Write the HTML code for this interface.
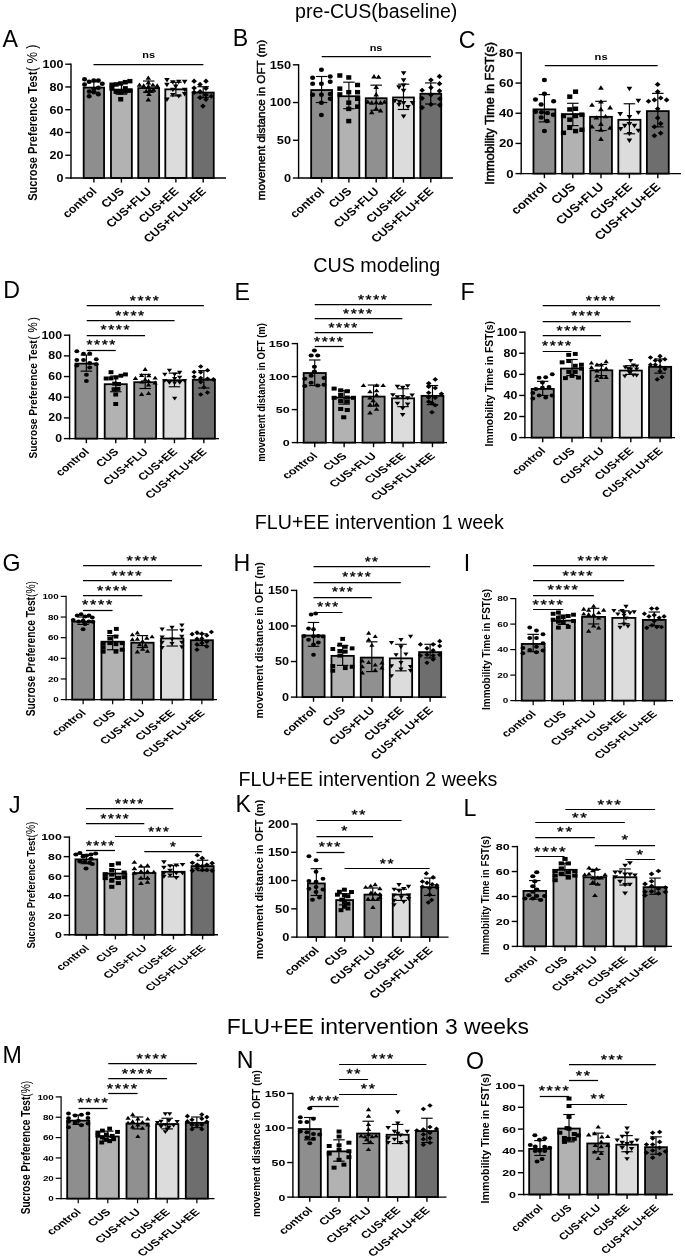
<!DOCTYPE html>
<html><head><meta charset="utf-8"><title>CUS FLU+EE behavioural tests</title>
<style>html,body{margin:0;padding:0;background:#fff}svg{display:block}</style></head>
<body><svg width="685" height="1259" viewBox="0 0 685 1259">
<rect width="685" height="1259" fill="#fff"/>
<g font-family="'Liberation Sans', Arial, Helvetica, sans-serif" fill="#000">
<text transform="translate(376.2,17.5)" font-size="19.6" text-anchor="middle" font-weight="normal">pre-CUS(baseline)</text>
<text transform="translate(376.8,272.4)" font-size="19.7" text-anchor="middle" font-weight="normal">CUS modeling</text>
<text transform="translate(379.3,528.8)" font-size="19.6" text-anchor="middle" font-weight="normal">FLU+EE intervention 1 week</text>
<text transform="translate(367.9,785.7)" font-size="19.6" text-anchor="middle" font-weight="normal">FLU+EE intervention 2 weeks</text>
<text transform="translate(377.8,1033.7)" font-size="22.9" text-anchor="middle" font-weight="normal">FLU+EE intervention 3 weeks</text>
<g>
<text transform="translate(2.5,46.5)" font-size="23.2" text-anchor="start" font-weight="normal">A</text>
<g stroke="#000" stroke-width="1.8">
<rect x="83.68" y="87.62" width="20.39" height="90.38" fill="#8e8e8e"/>
<rect x="110.97" y="89.61" width="20.88" height="88.39" fill="#b2b2b2"/>
<rect x="138.27" y="88.12" width="20.88" height="89.88" fill="#909090"/>
<rect x="165.31" y="89.36" width="21.13" height="88.64" fill="#dcdcdc"/>
<rect x="192.61" y="92.58" width="21.13" height="85.42" fill="#6e6e6e"/>
</g>
<line x1="71" y1="63.5" x2="71" y2="178.7" stroke="#000" stroke-width="1.4"/>
<line x1="70.3" y1="178" x2="226" y2="178" stroke="#000" stroke-width="1.4"/>
<line x1="65.3" y1="178" x2="71" y2="178" stroke="#000" stroke-width="1.4"/>
<text transform="translate(63.4,181.88) scale(1.13,1)" font-size="11.1" text-anchor="end" font-weight="bold">0</text>
<line x1="65.3" y1="155.24" x2="71" y2="155.24" stroke="#000" stroke-width="1.4"/>
<text transform="translate(63.4,159.12) scale(1.13,1)" font-size="11.1" text-anchor="end" font-weight="bold">20</text>
<line x1="65.3" y1="132.48" x2="71" y2="132.48" stroke="#000" stroke-width="1.4"/>
<text transform="translate(63.4,136.37) scale(1.13,1)" font-size="11.1" text-anchor="end" font-weight="bold">40</text>
<line x1="65.3" y1="109.72" x2="71" y2="109.72" stroke="#000" stroke-width="1.4"/>
<text transform="translate(63.4,113.61) scale(1.13,1)" font-size="11.1" text-anchor="end" font-weight="bold">60</text>
<line x1="65.3" y1="86.96" x2="71" y2="86.96" stroke="#000" stroke-width="1.4"/>
<text transform="translate(63.4,90.85) scale(1.13,1)" font-size="11.1" text-anchor="end" font-weight="bold">80</text>
<line x1="65.3" y1="64.2" x2="71" y2="64.2" stroke="#000" stroke-width="1.4"/>
<text transform="translate(63.4,68.09) scale(1.13,1)" font-size="11.1" text-anchor="end" font-weight="bold">100</text>
<line x1="93.87" y1="178" x2="93.87" y2="182.6" stroke="#000" stroke-width="1.4"/>
<line x1="121.41" y1="178" x2="121.41" y2="182.6" stroke="#000" stroke-width="1.4"/>
<line x1="148.71" y1="178" x2="148.71" y2="182.6" stroke="#000" stroke-width="1.4"/>
<line x1="175.88" y1="178" x2="175.88" y2="182.6" stroke="#000" stroke-width="1.4"/>
<line x1="203.18" y1="178" x2="203.18" y2="182.6" stroke="#000" stroke-width="1.4"/>
<line x1="93.87" y1="81.76" x2="93.87" y2="92.18" stroke="#000" stroke-width="1.15"/>
<line x1="88.12" y1="81.76" x2="99.62" y2="81.76" stroke="#000" stroke-width="1.15"/>
<line x1="88.12" y1="92.18" x2="99.62" y2="92.18" stroke="#000" stroke-width="1.15"/>
<line x1="121.41" y1="83.5" x2="121.41" y2="94.17" stroke="#000" stroke-width="1.15"/>
<line x1="115.66" y1="83.5" x2="127.16" y2="83.5" stroke="#000" stroke-width="1.15"/>
<line x1="115.66" y1="94.17" x2="127.16" y2="94.17" stroke="#000" stroke-width="1.15"/>
<line x1="148.71" y1="81.02" x2="148.71" y2="92.18" stroke="#000" stroke-width="1.15"/>
<line x1="142.96" y1="81.02" x2="154.46" y2="81.02" stroke="#000" stroke-width="1.15"/>
<line x1="142.96" y1="92.18" x2="154.46" y2="92.18" stroke="#000" stroke-width="1.15"/>
<line x1="175.88" y1="82.26" x2="175.88" y2="95.91" stroke="#000" stroke-width="1.15"/>
<line x1="170.13" y1="82.26" x2="181.63" y2="82.26" stroke="#000" stroke-width="1.15"/>
<line x1="170.13" y1="95.91" x2="181.63" y2="95.91" stroke="#000" stroke-width="1.15"/>
<line x1="203.18" y1="86.72" x2="203.18" y2="97.64" stroke="#000" stroke-width="1.15"/>
<line x1="197.43" y1="86.72" x2="208.93" y2="86.72" stroke="#000" stroke-width="1.15"/>
<line x1="197.43" y1="97.64" x2="208.93" y2="97.64" stroke="#000" stroke-width="1.15"/>
<g fill="#000">
<ellipse cx="84.57" cy="79.17" rx="2.54" ry="2.25"/>
<ellipse cx="89.17" cy="81.8" rx="2.54" ry="2.25"/>
<ellipse cx="93.77" cy="80.48" rx="2.54" ry="2.25"/>
<ellipse cx="98.36" cy="80.48" rx="2.54" ry="2.25"/>
<ellipse cx="84.57" cy="84.42" rx="2.54" ry="2.25"/>
<ellipse cx="102.31" cy="83.77" rx="2.54" ry="2.25"/>
<ellipse cx="98.36" cy="87.71" rx="2.54" ry="2.25"/>
<ellipse cx="89.17" cy="91.39" rx="2.54" ry="2.25"/>
<ellipse cx="93.77" cy="92.31" rx="2.54" ry="2.25"/>
<ellipse cx="98.36" cy="94.28" rx="2.54" ry="2.25"/>
<ellipse cx="89.17" cy="96.25" rx="2.54" ry="2.25"/>
<ellipse cx="93.77" cy="89.02" rx="2.54" ry="2.25"/>
<rect x="127.36" y="78.89" width="5.08" height="4.5"/>
<rect x="122.76" y="79.94" width="5.08" height="4.5"/>
<rect x="118.16" y="81.25" width="5.08" height="4.5"/>
<rect x="113.56" y="82.17" width="5.08" height="4.5"/>
<rect x="109.36" y="82.57" width="5.08" height="4.5"/>
<rect x="109.36" y="86.11" width="5.08" height="4.5"/>
<rect x="122.76" y="86.11" width="5.08" height="4.5"/>
<rect x="113.56" y="89.4" width="5.08" height="4.5"/>
<rect x="118.16" y="90.06" width="5.08" height="4.5"/>
<rect x="122.76" y="89.14" width="5.08" height="4.5"/>
<rect x="127.36" y="88.35" width="5.08" height="4.5"/>
<rect x="118.16" y="97.02" width="5.08" height="4.5"/>
<path d="M148.29 75.49L151.09 79.86L145.5 79.86Z"/>
<path d="M148.29 80.09L151.09 84.46L145.5 84.46Z"/>
<path d="M139.49 82.46L142.29 86.83L136.69 86.83Z"/>
<path d="M143.69 83.37L146.49 87.75L140.9 87.75Z"/>
<path d="M152.89 82.46L155.69 86.83L150.09 86.83Z"/>
<path d="M157.23 83.37L160.02 87.75L154.43 87.75Z"/>
<path d="M148.29 84.03L151.09 88.4L145.5 88.4Z"/>
<path d="M146.32 88.63L149.12 93L143.52 93Z"/>
<path d="M150.26 88.24L153.06 92.61L147.47 92.61Z"/>
<path d="M153.55 87.32L156.34 91.69L150.75 91.69Z"/>
<path d="M148.95 91.65L151.75 96.02L146.15 96.02Z"/>
<path d="M148.29 97.17L151.09 101.54L145.5 101.54Z"/>
<path d="M166.93 82.45L169.72 78.08L164.13 78.08Z"/>
<path d="M172.84 84.55L175.64 80.18L170.04 80.18Z"/>
<path d="M178.75 84.16L181.55 79.79L175.96 79.79Z"/>
<path d="M184.66 84.16L187.46 79.79L181.87 79.79Z"/>
<path d="M166.93 87.18L169.72 82.81L164.13 82.81Z"/>
<path d="M172.84 92.04L175.64 87.67L170.04 87.67Z"/>
<path d="M184.66 92.04L187.46 87.67L181.87 87.67Z"/>
<path d="M172.84 97.3L175.64 92.93L170.04 92.93Z"/>
<path d="M178.75 98.61L181.55 94.24L175.96 94.24Z"/>
<path d="M184.66 96.38L187.46 92.01L181.87 92.01Z"/>
<path d="M166.93 101.9L169.72 97.52L164.13 97.52Z"/>
<path d="M175.73 88.76L178.53 84.39L172.93 84.39Z"/>
<path d="M194.12 78.55L196.92 81.14L194.12 83.73L191.33 81.14Z"/>
<path d="M205.95 78.55L208.75 81.14L205.95 83.73L203.15 81.14Z"/>
<path d="M200.04 81.84L202.83 84.42L200.04 87.01L197.24 84.42Z"/>
<path d="M194.12 85.38L196.92 87.97L194.12 90.56L191.33 87.97Z"/>
<path d="M205.95 85.78L208.75 88.36L205.95 90.95L203.15 88.36Z"/>
<path d="M200.04 89.06L202.83 91.65L200.04 94.24L197.24 91.65Z"/>
<path d="M194.12 89.72L196.92 92.31L194.12 94.89L191.33 92.31Z"/>
<path d="M205.95 92.35L208.75 94.93L205.95 97.52L203.15 94.93Z"/>
<path d="M200.04 94.97L202.83 97.56L200.04 100.15L197.24 97.56Z"/>
<path d="M211.2 93.66L214 96.25L211.2 98.84L208.41 96.25Z"/>
<path d="M205.95 96.95L208.75 99.53L205.95 102.12L203.15 99.53Z"/>
<path d="M202.93 103.51L205.72 106.1L202.93 108.69L200.13 106.1Z"/>
</g>
<line x1="93.5" y1="64.5" x2="203.42" y2="64.5" stroke="#000" stroke-width="1.25"/>
<text transform="translate(148.59,58.19) scale(1.13,1)" font-size="9.7" text-anchor="middle" font-weight="bold">ns</text>
<text transform="translate(97.37,192) scale(1.13,1) rotate(-45)" font-size="11.08" text-anchor="end" font-weight="bold">control</text>
<text transform="translate(124.91,192) scale(1.13,1) rotate(-45)" font-size="11.08" text-anchor="end" font-weight="bold">CUS</text>
<text transform="translate(152.21,192) scale(1.13,1) rotate(-45)" font-size="11.08" text-anchor="end" font-weight="bold">CUS+FLU</text>
<text transform="translate(179.38,192) scale(1.13,1) rotate(-45)" font-size="11.08" text-anchor="end" font-weight="bold">CUS+EE</text>
<text transform="translate(206.68,192) scale(1.13,1) rotate(-45)" font-size="11.08" text-anchor="end" font-weight="bold">CUS+FLU+EE</text>
<text transform="translate(37.2,200.8) scale(1.15,1) rotate(-90)" font-size="11.1" text-anchor="start" font-weight="bold">Sucrose Preference Test<tspan font-weight="normal" font-size="12.5" dx="0.3">(</tspan><tspan font-weight="normal" font-size="13" dx="3.6">%</tspan><tspan font-weight="normal" font-size="12.5" dx="3.2">)</tspan></text>
</g>
<g>
<text transform="translate(232.7,46.3)" font-size="23.2" text-anchor="start" font-weight="normal">B</text>
<g stroke="#000" stroke-width="1.8">
<rect x="311.16" y="90.03" width="20.88" height="87.97" fill="#8e8e8e"/>
<rect x="338.45" y="96.23" width="20.88" height="81.77" fill="#b2b2b2"/>
<rect x="365.75" y="98.22" width="20.88" height="79.78" fill="#909090"/>
<rect x="393.04" y="97.47" width="20.88" height="80.53" fill="#dcdcdc"/>
<rect x="420.34" y="93.75" width="20.88" height="84.25" fill="#6e6e6e"/>
</g>
<line x1="298.6" y1="64.1" x2="298.6" y2="178.7" stroke="#000" stroke-width="1.4"/>
<line x1="297.9" y1="178" x2="453" y2="178" stroke="#000" stroke-width="1.4"/>
<line x1="292.9" y1="178" x2="298.6" y2="178" stroke="#000" stroke-width="1.4"/>
<text transform="translate(291,181.96) scale(1.13,1)" font-size="11.3" text-anchor="end" font-weight="bold">0</text>
<line x1="292.9" y1="140.27" x2="298.6" y2="140.27" stroke="#000" stroke-width="1.4"/>
<text transform="translate(291,144.22) scale(1.13,1)" font-size="11.3" text-anchor="end" font-weight="bold">50</text>
<line x1="292.9" y1="102.53" x2="298.6" y2="102.53" stroke="#000" stroke-width="1.4"/>
<text transform="translate(291,106.49) scale(1.13,1)" font-size="11.3" text-anchor="end" font-weight="bold">100</text>
<line x1="292.9" y1="64.8" x2="298.6" y2="64.8" stroke="#000" stroke-width="1.4"/>
<text transform="translate(291,68.75) scale(1.13,1)" font-size="11.3" text-anchor="end" font-weight="bold">150</text>
<line x1="321.6" y1="178" x2="321.6" y2="182.6" stroke="#000" stroke-width="1.4"/>
<line x1="348.9" y1="178" x2="348.9" y2="182.6" stroke="#000" stroke-width="1.4"/>
<line x1="376.19" y1="178" x2="376.19" y2="182.6" stroke="#000" stroke-width="1.4"/>
<line x1="403.49" y1="178" x2="403.49" y2="182.6" stroke="#000" stroke-width="1.4"/>
<line x1="430.78" y1="178" x2="430.78" y2="182.6" stroke="#000" stroke-width="1.4"/>
<line x1="321.6" y1="76.48" x2="321.6" y2="102.53" stroke="#000" stroke-width="1.15"/>
<line x1="315.85" y1="76.48" x2="327.35" y2="76.48" stroke="#000" stroke-width="1.15"/>
<line x1="315.85" y1="102.53" x2="327.35" y2="102.53" stroke="#000" stroke-width="1.15"/>
<line x1="348.9" y1="82.18" x2="348.9" y2="108.73" stroke="#000" stroke-width="1.15"/>
<line x1="343.15" y1="82.18" x2="354.65" y2="82.18" stroke="#000" stroke-width="1.15"/>
<line x1="343.15" y1="108.73" x2="354.65" y2="108.73" stroke="#000" stroke-width="1.15"/>
<line x1="376.19" y1="85.16" x2="376.19" y2="110.22" stroke="#000" stroke-width="1.15"/>
<line x1="370.44" y1="85.16" x2="381.94" y2="85.16" stroke="#000" stroke-width="1.15"/>
<line x1="370.44" y1="110.22" x2="381.94" y2="110.22" stroke="#000" stroke-width="1.15"/>
<line x1="403.49" y1="84.17" x2="403.49" y2="109.48" stroke="#000" stroke-width="1.15"/>
<line x1="397.74" y1="84.17" x2="409.24" y2="84.17" stroke="#000" stroke-width="1.15"/>
<line x1="397.74" y1="109.48" x2="409.24" y2="109.48" stroke="#000" stroke-width="1.15"/>
<line x1="430.78" y1="82.93" x2="430.78" y2="104.02" stroke="#000" stroke-width="1.15"/>
<line x1="425.03" y1="82.93" x2="436.53" y2="82.93" stroke="#000" stroke-width="1.15"/>
<line x1="425.03" y1="104.02" x2="436.53" y2="104.02" stroke="#000" stroke-width="1.15"/>
<g fill="#000">
<ellipse cx="321.42" cy="69.85" rx="2.54" ry="2.25"/>
<ellipse cx="312.62" cy="77.74" rx="2.54" ry="2.25"/>
<ellipse cx="330.23" cy="76.42" rx="2.54" ry="2.25"/>
<ellipse cx="312.62" cy="83.65" rx="2.54" ry="2.25"/>
<ellipse cx="321.42" cy="83.65" rx="2.54" ry="2.25"/>
<ellipse cx="330.23" cy="81.68" rx="2.54" ry="2.25"/>
<ellipse cx="312.62" cy="94.82" rx="2.54" ry="2.25"/>
<ellipse cx="321.42" cy="94.82" rx="2.54" ry="2.25"/>
<ellipse cx="330.23" cy="93.9" rx="2.54" ry="2.25"/>
<ellipse cx="330.23" cy="98.76" rx="2.54" ry="2.25"/>
<ellipse cx="321.42" cy="102.7" rx="2.54" ry="2.25"/>
<ellipse cx="321.42" cy="114.92" rx="2.54" ry="2.25"/>
<rect x="337.28" y="73.25" width="5.08" height="4.5"/>
<rect x="346.21" y="75.22" width="5.08" height="4.5"/>
<rect x="355.01" y="82.71" width="5.08" height="4.5"/>
<rect x="337.28" y="86.39" width="5.08" height="4.5"/>
<rect x="346.21" y="89.94" width="5.08" height="4.5"/>
<rect x="355.01" y="89.94" width="5.08" height="4.5"/>
<rect x="337.28" y="92.17" width="5.08" height="4.5"/>
<rect x="355.01" y="96.51" width="5.08" height="4.5"/>
<rect x="346.21" y="100.45" width="5.08" height="4.5"/>
<rect x="355.01" y="104.39" width="5.08" height="4.5"/>
<rect x="346.21" y="106.63" width="5.08" height="4.5"/>
<rect x="346.21" y="118.84" width="5.08" height="4.5"/>
<path d="M373.98 74.06L376.77 78.43L371.18 78.43Z"/>
<path d="M378.58 74.46L381.37 78.83L375.78 78.83Z"/>
<path d="M376.21 84.57L379.01 88.94L373.41 88.94Z"/>
<path d="M376.21 92.06L379.01 96.43L373.41 96.43Z"/>
<path d="M367.8 99.42L370.6 103.79L365.01 103.79Z"/>
<path d="M371.74 100.34L374.54 104.71L368.95 104.71Z"/>
<path d="M376.21 99.94L379.01 104.31L373.41 104.31Z"/>
<path d="M380.55 100.34L383.34 104.71L377.75 104.71Z"/>
<path d="M384.49 99.42L387.29 103.79L381.69 103.79Z"/>
<path d="M376.21 106.25L379.01 110.62L373.41 110.62Z"/>
<path d="M371.74 109.93L374.54 114.3L368.95 114.3Z"/>
<path d="M380.55 108.22L383.34 112.59L377.75 112.59Z"/>
<path d="M403.62 75.5L406.42 71.13L400.82 71.13Z"/>
<path d="M403.62 82.73L406.42 78.36L400.82 78.36Z"/>
<path d="M399.02 89.69L401.82 85.32L396.23 85.32Z"/>
<path d="M403.62 87.98L406.42 83.61L400.82 83.61Z"/>
<path d="M403.62 93.24L406.42 88.87L400.82 88.87Z"/>
<path d="M394.82 103.36L397.61 98.98L392.02 98.98Z"/>
<path d="M399.02 107.03L401.82 102.66L396.23 102.66Z"/>
<path d="M403.62 105.46L406.42 101.09L400.82 101.09Z"/>
<path d="M412.55 105.46L415.35 101.09L409.76 101.09Z"/>
<path d="M407.96 109.27L410.75 104.9L405.16 104.9Z"/>
<path d="M403.62 118.86L406.42 114.49L400.82 114.49Z"/>
<path d="M399.42 104.14L402.21 99.77L396.62 99.77Z"/>
<path d="M439.49 73.84L442.29 76.42L439.49 79.01L436.69 76.42Z"/>
<path d="M430.95 77.38L433.75 79.97L430.95 82.56L428.15 79.97Z"/>
<path d="M439.49 81.06L442.29 83.65L439.49 86.24L436.69 83.65Z"/>
<path d="M430.95 85L433.75 87.59L430.95 90.18L428.15 87.59Z"/>
<path d="M422.15 87.63L424.94 90.22L422.15 92.81L419.35 90.22Z"/>
<path d="M439.49 88.29L442.29 90.88L439.49 93.46L436.69 90.88Z"/>
<path d="M422.15 95.78L424.94 98.36L422.15 100.95L419.35 98.36Z"/>
<path d="M439.75 96.17L442.55 98.76L439.75 101.35L436.96 98.76Z"/>
<path d="M430.95 101.82L433.75 104.41L430.95 107L428.15 104.41Z"/>
<path d="M439.75 102.48L442.55 105.07L439.75 107.65L436.96 105.07Z"/>
<path d="M422.15 104.97L424.94 107.56L422.15 110.15L419.35 107.56Z"/>
<path d="M430.95 92.23L433.75 94.82L430.95 97.41L428.15 94.82Z"/>
</g>
<line x1="321.72" y1="56.5" x2="430.91" y2="56.5" stroke="#000" stroke-width="1.25"/>
<text transform="translate(376.07,51.17) scale(1.13,1)" font-size="9.7" text-anchor="middle" font-weight="bold">ns</text>
<text transform="translate(325.1,192) scale(1.13,1) rotate(-45)" font-size="11.08" text-anchor="end" font-weight="bold">control</text>
<text transform="translate(352.4,192) scale(1.13,1) rotate(-45)" font-size="11.08" text-anchor="end" font-weight="bold">CUS</text>
<text transform="translate(379.69,192) scale(1.13,1) rotate(-45)" font-size="11.08" text-anchor="end" font-weight="bold">CUS+FLU</text>
<text transform="translate(406.99,192) scale(1.13,1) rotate(-45)" font-size="11.08" text-anchor="end" font-weight="bold">CUS+EE</text>
<text transform="translate(434.28,192) scale(1.13,1) rotate(-45)" font-size="11.08" text-anchor="end" font-weight="bold">CUS+FLU+EE</text>
<text transform="translate(265.3,200.2) scale(0.98,1) rotate(-90)" font-size="11.66" text-anchor="start" font-weight="normal" stroke="#000" stroke-width="0.45">movement distance in OFT (m)</text>
</g>
<g>
<text transform="translate(458.8,48.1)" font-size="23.2" text-anchor="start" font-weight="normal">C</text>
<g stroke="#000" stroke-width="1.8">
<rect x="533.47" y="109.38" width="21.88" height="64.22" fill="#8e8e8e"/>
<rect x="562" y="114.1" width="21.63" height="59.5" fill="#b2b2b2"/>
<rect x="590.04" y="116.83" width="21.88" height="56.77" fill="#909090"/>
<rect x="618.33" y="119.8" width="22.13" height="53.8" fill="#dcdcdc"/>
<rect x="646.87" y="111.12" width="21.88" height="62.48" fill="#6e6e6e"/>
</g>
<line x1="521.2" y1="52.2" x2="521.2" y2="174.3" stroke="#000" stroke-width="1.4"/>
<line x1="520.5" y1="173.6" x2="681" y2="173.6" stroke="#000" stroke-width="1.4"/>
<line x1="515.5" y1="173.6" x2="521.2" y2="173.6" stroke="#000" stroke-width="1.4"/>
<text transform="translate(513.6,177.59) scale(1.15,1)" font-size="11.4" text-anchor="end" font-weight="bold">0</text>
<line x1="515.5" y1="143.43" x2="521.2" y2="143.43" stroke="#000" stroke-width="1.4"/>
<text transform="translate(513.6,147.42) scale(1.15,1)" font-size="11.4" text-anchor="end" font-weight="bold">20</text>
<line x1="515.5" y1="113.25" x2="521.2" y2="113.25" stroke="#000" stroke-width="1.4"/>
<text transform="translate(513.6,117.24) scale(1.15,1)" font-size="11.4" text-anchor="end" font-weight="bold">40</text>
<line x1="515.5" y1="83.08" x2="521.2" y2="83.08" stroke="#000" stroke-width="1.4"/>
<text transform="translate(513.6,87.06) scale(1.15,1)" font-size="11.4" text-anchor="end" font-weight="bold">60</text>
<line x1="515.5" y1="52.9" x2="521.2" y2="52.9" stroke="#000" stroke-width="1.4"/>
<text transform="translate(513.6,56.89) scale(1.15,1)" font-size="11.4" text-anchor="end" font-weight="bold">80</text>
<line x1="544.4" y1="173.6" x2="544.4" y2="178.2" stroke="#000" stroke-width="1.4"/>
<line x1="572.82" y1="173.6" x2="572.82" y2="178.2" stroke="#000" stroke-width="1.4"/>
<line x1="600.98" y1="173.6" x2="600.98" y2="178.2" stroke="#000" stroke-width="1.4"/>
<line x1="629.39" y1="173.6" x2="629.39" y2="178.2" stroke="#000" stroke-width="1.4"/>
<line x1="657.8" y1="173.6" x2="657.8" y2="178.2" stroke="#000" stroke-width="1.4"/>
<line x1="544.4" y1="94.59" x2="544.4" y2="121.89" stroke="#000" stroke-width="1.15"/>
<line x1="538.65" y1="94.59" x2="550.15" y2="94.59" stroke="#000" stroke-width="1.15"/>
<line x1="538.65" y1="121.89" x2="550.15" y2="121.89" stroke="#000" stroke-width="1.15"/>
<line x1="572.82" y1="103.28" x2="572.82" y2="125.61" stroke="#000" stroke-width="1.15"/>
<line x1="567.07" y1="103.28" x2="578.57" y2="103.28" stroke="#000" stroke-width="1.15"/>
<line x1="567.07" y1="125.61" x2="578.57" y2="125.61" stroke="#000" stroke-width="1.15"/>
<line x1="600.98" y1="101.29" x2="600.98" y2="130.57" stroke="#000" stroke-width="1.15"/>
<line x1="595.23" y1="101.29" x2="606.73" y2="101.29" stroke="#000" stroke-width="1.15"/>
<line x1="595.23" y1="130.57" x2="606.73" y2="130.57" stroke="#000" stroke-width="1.15"/>
<line x1="629.39" y1="103.77" x2="629.39" y2="133.8" stroke="#000" stroke-width="1.15"/>
<line x1="623.64" y1="103.77" x2="635.14" y2="103.77" stroke="#000" stroke-width="1.15"/>
<line x1="623.64" y1="133.8" x2="635.14" y2="133.8" stroke="#000" stroke-width="1.15"/>
<line x1="657.8" y1="93.35" x2="657.8" y2="126.85" stroke="#000" stroke-width="1.15"/>
<line x1="652.05" y1="93.35" x2="663.55" y2="93.35" stroke="#000" stroke-width="1.15"/>
<line x1="652.05" y1="126.85" x2="663.55" y2="126.85" stroke="#000" stroke-width="1.15"/>
<g fill="#000">
<ellipse cx="544.42" cy="80.12" rx="2.59" ry="2.25"/>
<ellipse cx="544.42" cy="93.65" rx="2.59" ry="2.25"/>
<ellipse cx="535.49" cy="99.56" rx="2.59" ry="2.25"/>
<ellipse cx="553.62" cy="101.27" rx="2.59" ry="2.25"/>
<ellipse cx="541.14" cy="104.42" rx="2.59" ry="2.25"/>
<ellipse cx="535.49" cy="111.78" rx="2.59" ry="2.25"/>
<ellipse cx="541.53" cy="112.31" rx="2.59" ry="2.25"/>
<ellipse cx="547.45" cy="113.09" rx="2.59" ry="2.25"/>
<ellipse cx="553.23" cy="114.67" rx="2.59" ry="2.25"/>
<ellipse cx="541.14" cy="117.56" rx="2.59" ry="2.25"/>
<ellipse cx="547.05" cy="120.98" rx="2.59" ry="2.25"/>
<ellipse cx="544.42" cy="131.09" rx="2.59" ry="2.25"/>
<rect x="572.97" y="89.43" width="5.17" height="4.5"/>
<rect x="567.19" y="94.42" width="5.17" height="4.5"/>
<rect x="567.19" y="107.17" width="5.17" height="4.5"/>
<rect x="572.97" y="106.51" width="5.17" height="4.5"/>
<rect x="560.89" y="113.74" width="5.17" height="4.5"/>
<rect x="572.97" y="113.74" width="5.17" height="4.5"/>
<rect x="579.28" y="112.42" width="5.17" height="4.5"/>
<rect x="567.19" y="117.41" width="5.17" height="4.5"/>
<rect x="567.19" y="125.56" width="5.17" height="4.5"/>
<rect x="560.89" y="130.55" width="5.17" height="4.5"/>
<rect x="572.97" y="128.84" width="5.17" height="4.5"/>
<rect x="579.28" y="127.53" width="5.17" height="4.5"/>
<path d="M600.92 85.37L603.77 89.75L598.07 89.75Z"/>
<path d="M600.92 99.17L603.77 103.54L598.07 103.54Z"/>
<path d="M591.99 102.46L594.83 106.83L589.14 106.83Z"/>
<path d="M610.12 105.08L612.96 109.45L607.27 109.45Z"/>
<path d="M600.92 106.79L603.77 111.16L598.07 111.16Z"/>
<path d="M596.32 115.2L599.17 119.57L593.47 119.57Z"/>
<path d="M605.52 113.89L608.36 118.26L602.67 118.26Z"/>
<path d="M600.92 121.51L603.77 125.88L598.07 125.88Z"/>
<path d="M591.99 124.13L594.83 128.5L589.14 128.5Z"/>
<path d="M610.12 125.45L612.96 129.82L607.27 129.82Z"/>
<path d="M600.92 127.42L603.77 131.79L598.07 131.79Z"/>
<path d="M600.92 136.62L603.77 140.99L598.07 140.99Z"/>
<path d="M629.42 91.15L632.27 86.78L626.58 86.78Z"/>
<path d="M638.36 103.24L641.2 98.87L635.51 98.87Z"/>
<path d="M620.23 116.38L623.07 112.01L617.38 112.01Z"/>
<path d="M638.36 115.06L641.2 110.69L635.51 110.69Z"/>
<path d="M629.42 119.27L632.27 114.9L626.58 114.9Z"/>
<path d="M629.42 126.49L632.27 122.12L626.58 122.12Z"/>
<path d="M620.62 131.49L623.47 127.12L617.77 127.12Z"/>
<path d="M638.36 133.06L641.2 128.69L635.51 128.69Z"/>
<path d="M629.42 136.35L632.27 131.98L626.58 131.98Z"/>
<path d="M629.42 142.92L632.27 138.55L626.58 138.55Z"/>
<path d="M624.82 128.2L627.67 123.83L621.98 123.83Z"/>
<path d="M634.42 128.2L637.26 123.83L631.57 123.83Z"/>
<path d="M657.67 81.87L660.52 84.45L657.67 87.04L654.83 84.45Z"/>
<path d="M657.67 89.09L660.52 91.68L657.67 94.27L654.83 91.68Z"/>
<path d="M648.47 98.68L651.32 101.27L648.47 103.86L645.63 101.27Z"/>
<path d="M654.39 97.37L657.23 99.96L654.39 102.54L651.54 99.96Z"/>
<path d="M660.69 95.4L663.54 97.99L660.69 100.57L657.85 97.99Z"/>
<path d="M666.61 97.37L669.45 99.96L666.61 102.54L663.76 99.96Z"/>
<path d="M657.67 106.17L660.52 108.76L657.67 111.35L654.83 108.76Z"/>
<path d="M657.67 115.37L660.52 117.96L657.67 120.54L654.83 117.96Z"/>
<path d="M660.69 121.02L663.54 123.61L660.69 126.19L657.85 123.61Z"/>
<path d="M654.39 124.17L657.23 126.76L654.39 129.35L651.54 126.76Z"/>
<path d="M660.69 130.48L663.54 133.07L660.69 135.65L657.85 133.07Z"/>
<path d="M654.39 133.11L657.23 135.69L654.39 138.28L651.54 135.69Z"/>
</g>
<line x1="544.78" y1="65.5" x2="657.68" y2="65.5" stroke="#000" stroke-width="1.25"/>
<text transform="translate(601.1,59.85) scale(1.15,1)" font-size="9.7" text-anchor="middle" font-weight="bold">ns</text>
<text transform="translate(547.9,187.6) scale(1.15,1) rotate(-45)" font-size="11.5" text-anchor="end" font-weight="bold">control</text>
<text transform="translate(576.32,187.6) scale(1.15,1) rotate(-45)" font-size="11.5" text-anchor="end" font-weight="bold">CUS</text>
<text transform="translate(604.48,187.6) scale(1.15,1) rotate(-45)" font-size="11.5" text-anchor="end" font-weight="bold">CUS+FLU</text>
<text transform="translate(632.89,187.6) scale(1.15,1) rotate(-45)" font-size="11.5" text-anchor="end" font-weight="bold">CUS+EE</text>
<text transform="translate(661.3,187.6) scale(1.15,1) rotate(-45)" font-size="11.5" text-anchor="end" font-weight="bold">CUS+FLU+EE</text>
<text transform="translate(493.6,184.8) scale(1.02,1) rotate(-90)" font-size="12.6" text-anchor="start" font-weight="normal" stroke="#000" stroke-width="0.5">Immobility Time in FST(s)</text>
</g>
<g>
<text transform="translate(3.2,297.8)" font-size="23.2" text-anchor="start" font-weight="normal">D</text>
<g stroke="#000" stroke-width="1.8">
<rect x="75.41" y="363.6" width="21.88" height="75" fill="#8e8e8e"/>
<rect x="104.69" y="384.2" width="22.13" height="54.4" fill="#b2b2b2"/>
<rect x="134.22" y="382.21" width="21.88" height="56.39" fill="#909090"/>
<rect x="163.5" y="380.23" width="21.88" height="58.37" fill="#dcdcdc"/>
<rect x="192.78" y="379.73" width="22.13" height="58.87" fill="#6e6e6e"/>
</g>
<line x1="69.6" y1="334.5" x2="69.6" y2="439.3" stroke="#000" stroke-width="1.4"/>
<line x1="68.9" y1="438.6" x2="219" y2="438.6" stroke="#000" stroke-width="1.4"/>
<line x1="63.9" y1="438.6" x2="69.6" y2="438.6" stroke="#000" stroke-width="1.4"/>
<text transform="translate(62,442.17) scale(1.21,1)" font-size="10.2" text-anchor="end" font-weight="bold">0</text>
<line x1="63.9" y1="417.92" x2="69.6" y2="417.92" stroke="#000" stroke-width="1.4"/>
<text transform="translate(62,421.49) scale(1.21,1)" font-size="10.2" text-anchor="end" font-weight="bold">20</text>
<line x1="63.9" y1="397.24" x2="69.6" y2="397.24" stroke="#000" stroke-width="1.4"/>
<text transform="translate(62,400.81) scale(1.21,1)" font-size="10.2" text-anchor="end" font-weight="bold">40</text>
<line x1="63.9" y1="376.56" x2="69.6" y2="376.56" stroke="#000" stroke-width="1.4"/>
<text transform="translate(62,380.13) scale(1.21,1)" font-size="10.2" text-anchor="end" font-weight="bold">60</text>
<line x1="63.9" y1="355.88" x2="69.6" y2="355.88" stroke="#000" stroke-width="1.4"/>
<text transform="translate(62,359.45) scale(1.21,1)" font-size="10.2" text-anchor="end" font-weight="bold">80</text>
<line x1="63.9" y1="335.2" x2="69.6" y2="335.2" stroke="#000" stroke-width="1.4"/>
<text transform="translate(62,338.77) scale(1.21,1)" font-size="10.2" text-anchor="end" font-weight="bold">100</text>
<line x1="86.35" y1="438.6" x2="86.35" y2="443.2" stroke="#000" stroke-width="1.4"/>
<line x1="115.76" y1="438.6" x2="115.76" y2="443.2" stroke="#000" stroke-width="1.4"/>
<line x1="145.16" y1="438.6" x2="145.16" y2="443.2" stroke="#000" stroke-width="1.4"/>
<line x1="174.44" y1="438.6" x2="174.44" y2="443.2" stroke="#000" stroke-width="1.4"/>
<line x1="203.85" y1="438.6" x2="203.85" y2="443.2" stroke="#000" stroke-width="1.4"/>
<line x1="86.35" y1="355.01" x2="86.35" y2="371.14" stroke="#000" stroke-width="1.15"/>
<line x1="80.6" y1="355.01" x2="92.1" y2="355.01" stroke="#000" stroke-width="1.15"/>
<line x1="80.6" y1="371.14" x2="92.1" y2="371.14" stroke="#000" stroke-width="1.15"/>
<line x1="115.76" y1="376.1" x2="115.76" y2="391.74" stroke="#000" stroke-width="1.15"/>
<line x1="110.01" y1="376.1" x2="121.51" y2="376.1" stroke="#000" stroke-width="1.15"/>
<line x1="110.01" y1="391.74" x2="121.51" y2="391.74" stroke="#000" stroke-width="1.15"/>
<line x1="145.16" y1="374.37" x2="145.16" y2="388.51" stroke="#000" stroke-width="1.15"/>
<line x1="139.41" y1="374.37" x2="150.91" y2="374.37" stroke="#000" stroke-width="1.15"/>
<line x1="139.41" y1="388.51" x2="150.91" y2="388.51" stroke="#000" stroke-width="1.15"/>
<line x1="174.44" y1="373.13" x2="174.44" y2="386.77" stroke="#000" stroke-width="1.15"/>
<line x1="168.69" y1="373.13" x2="180.19" y2="373.13" stroke="#000" stroke-width="1.15"/>
<line x1="168.69" y1="386.77" x2="180.19" y2="386.77" stroke="#000" stroke-width="1.15"/>
<line x1="203.85" y1="370.65" x2="203.85" y2="388.01" stroke="#000" stroke-width="1.15"/>
<line x1="198.1" y1="370.65" x2="209.6" y2="370.65" stroke="#000" stroke-width="1.15"/>
<line x1="198.1" y1="388.01" x2="209.6" y2="388.01" stroke="#000" stroke-width="1.15"/>
<g fill="#000">
<ellipse cx="76.83" cy="351.17" rx="2.42" ry="2"/>
<ellipse cx="83.53" cy="353.8" rx="2.42" ry="2"/>
<ellipse cx="89.71" cy="353.53" rx="2.42" ry="2"/>
<ellipse cx="76.83" cy="359.97" rx="2.42" ry="2"/>
<ellipse cx="83.53" cy="359.97" rx="2.42" ry="2"/>
<ellipse cx="96.28" cy="359.31" rx="2.42" ry="2"/>
<ellipse cx="89.71" cy="362.99" rx="2.42" ry="2"/>
<ellipse cx="76.83" cy="365.62" rx="2.42" ry="2"/>
<ellipse cx="96.28" cy="364.31" rx="2.42" ry="2"/>
<ellipse cx="89.71" cy="367.59" rx="2.42" ry="2"/>
<ellipse cx="86.42" cy="374.82" rx="2.42" ry="2"/>
<ellipse cx="86.42" cy="380.99" rx="2.42" ry="2"/>
<rect x="108.57" y="370.19" width="4.84" height="4"/>
<rect x="123.03" y="372.42" width="4.84" height="4"/>
<rect x="118.43" y="373.74" width="4.84" height="4"/>
<rect x="113.57" y="375.45" width="4.84" height="4"/>
<rect x="108.57" y="376.36" width="4.84" height="4"/>
<rect x="103.71" y="376.5" width="4.84" height="4"/>
<rect x="112.25" y="381.62" width="4.84" height="4"/>
<rect x="116.19" y="382.01" width="4.84" height="4"/>
<rect x="111.59" y="387.27" width="4.84" height="4"/>
<rect x="115.54" y="386.88" width="4.84" height="4"/>
<rect x="113.3" y="392.53" width="4.84" height="4"/>
<rect x="113.3" y="401.99" width="4.84" height="4"/>
<path d="M145.15 367.07L147.82 370.95L142.49 370.95Z"/>
<path d="M141.61 373.11L144.27 377L138.94 377Z"/>
<path d="M148.83 373.37L151.49 377.26L146.17 377.26Z"/>
<path d="M135.43 376L138.09 379.89L132.77 379.89Z"/>
<path d="M155.14 375.74L157.8 379.62L152.48 379.62Z"/>
<path d="M145.15 377.32L147.82 381.2L142.49 381.2Z"/>
<path d="M148.57 378.63L151.23 382.51L145.91 382.51Z"/>
<path d="M142 379.68L144.66 383.57L139.34 383.57Z"/>
<path d="M155.14 380.6L157.8 384.49L152.48 384.49Z"/>
<path d="M148.57 382.57L151.23 386.46L145.91 386.46Z"/>
<path d="M141.61 392.03L144.27 395.92L138.94 395.92Z"/>
<path d="M148.57 391.11L151.23 395L145.91 395Z"/>
<path d="M169.42 372.58L172.08 368.7L166.75 368.7Z"/>
<path d="M164.82 376.52L167.48 372.64L162.16 372.64Z"/>
<path d="M174.67 376.52L177.33 372.64L172.01 372.64Z"/>
<path d="M179.66 374.68L182.33 370.8L177 370.8Z"/>
<path d="M179.66 379.55L182.33 375.66L177 375.66Z"/>
<path d="M174.67 380.86L177.33 376.97L172.01 376.97Z"/>
<path d="M169.42 384.8L172.08 380.92L166.75 380.92Z"/>
<path d="M174.67 385.19L177.33 381.31L172.01 381.31Z"/>
<path d="M179.66 384.8L182.33 380.92L177 380.92Z"/>
<path d="M164.82 382.83L167.48 378.94L162.16 378.94Z"/>
<path d="M184.53 382.83L187.19 378.94L181.86 378.94Z"/>
<path d="M174.67 400.57L177.33 396.68L172.01 396.68Z"/>
<path d="M200.69 364.24L203.35 366.54L200.69 368.84L198.02 366.54Z"/>
<path d="M207.52 367.92L210.18 370.22L207.52 372.52L204.86 370.22Z"/>
<path d="M194.12 369.63L196.78 371.93L194.12 374.23L191.45 371.93Z"/>
<path d="M200.69 369.89L203.35 372.19L200.69 374.49L198.02 372.19Z"/>
<path d="M194.12 374.49L196.78 376.79L194.12 379.09L191.45 376.79Z"/>
<path d="M200.69 375.8L203.35 378.1L200.69 380.4L198.02 378.1Z"/>
<path d="M207.52 376.46L210.18 378.76L207.52 381.06L204.86 378.76Z"/>
<path d="M200.69 379.74L203.35 382.04L200.69 384.34L198.02 382.04Z"/>
<path d="M213.43 377.12L216.09 379.42L213.43 381.72L210.77 379.42Z"/>
<path d="M203.97 385L206.63 387.3L203.97 389.6L201.31 387.3Z"/>
<path d="M207.52 390.25L210.18 392.55L207.52 394.85L204.86 392.55Z"/>
<path d="M200.69 392.23L203.35 394.53L200.69 396.83L198.02 394.53Z"/>
</g>
<line x1="86.72" y1="350.5" x2="115.76" y2="350.5" stroke="#000" stroke-width="1.25"/>
<text transform="translate(101.69,349.37) scale(1.21,1)" font-size="12.8" text-anchor="middle" font-weight="normal" letter-spacing="1.35" stroke="#000" stroke-width="0.35">****</text>
<line x1="86.72" y1="335.5" x2="145.04" y2="335.5" stroke="#000" stroke-width="1.25"/>
<text transform="translate(115.83,334.48) scale(1.21,1)" font-size="12.8" text-anchor="middle" font-weight="normal" letter-spacing="1.35" stroke="#000" stroke-width="0.35">****</text>
<line x1="86.72" y1="320.5" x2="174.57" y2="320.5" stroke="#000" stroke-width="1.25"/>
<text transform="translate(130.47,319.59) scale(1.21,1)" font-size="12.8" text-anchor="middle" font-weight="normal" letter-spacing="1.35" stroke="#000" stroke-width="0.35">****</text>
<line x1="86.72" y1="305.5" x2="203.85" y2="305.5" stroke="#000" stroke-width="1.25"/>
<text transform="translate(145.11,304.7) scale(1.21,1)" font-size="12.8" text-anchor="middle" font-weight="normal" letter-spacing="1.35" stroke="#000" stroke-width="0.35">****</text>
<text transform="translate(89.85,452.6) scale(1.22,1) rotate(-45)" font-size="10.08" text-anchor="end" font-weight="bold">control</text>
<text transform="translate(119.26,452.6) scale(1.22,1) rotate(-45)" font-size="10.08" text-anchor="end" font-weight="bold">CUS</text>
<text transform="translate(148.66,452.6) scale(1.22,1) rotate(-45)" font-size="10.08" text-anchor="end" font-weight="bold">CUS+FLU</text>
<text transform="translate(177.94,452.6) scale(1.22,1) rotate(-45)" font-size="10.08" text-anchor="end" font-weight="bold">CUS+EE</text>
<text transform="translate(207.35,452.6) scale(1.22,1) rotate(-45)" font-size="10.08" text-anchor="end" font-weight="bold">CUS+FLU+EE</text>
<text transform="translate(36.9,458.6) scale(1.12,1) rotate(-90)" font-size="10.17" text-anchor="start" font-weight="bold">Sucrose Preference Test<tspan font-weight="normal" font-size="11" dx="0.6" stroke="#000" stroke-width="0.1">(</tspan><tspan font-weight="normal" font-size="11.5" dx="3.6" stroke="#000" stroke-width="0.1">%</tspan><tspan font-weight="normal" font-size="11" dx="1.4" stroke="#000" stroke-width="0.1">)</tspan></text>
</g>
<g>
<text transform="translate(234.6,299.8)" font-size="23.2" text-anchor="start" font-weight="normal">E</text>
<g stroke="#000" stroke-width="1.8">
<rect x="303.68" y="373.03" width="22.13" height="69.57" fill="#8e8e8e"/>
<rect x="333.21" y="397.6" width="21.88" height="45" fill="#b2b2b2"/>
<rect x="362.49" y="396.6" width="22.13" height="46" fill="#909090"/>
<rect x="392.01" y="398.34" width="22.13" height="44.26" fill="#dcdcdc"/>
<rect x="421.54" y="395.86" width="21.88" height="46.74" fill="#6e6e6e"/>
</g>
<line x1="297.4" y1="342.9" x2="297.4" y2="443.3" stroke="#000" stroke-width="1.4"/>
<line x1="296.7" y1="442.6" x2="447" y2="442.6" stroke="#000" stroke-width="1.4"/>
<line x1="291.7" y1="442.6" x2="297.4" y2="442.6" stroke="#000" stroke-width="1.4"/>
<text transform="translate(289.8,446.03) scale(1.28,1)" font-size="9.8" text-anchor="end" font-weight="bold">0</text>
<line x1="291.7" y1="409.6" x2="297.4" y2="409.6" stroke="#000" stroke-width="1.4"/>
<text transform="translate(289.8,413.03) scale(1.28,1)" font-size="9.8" text-anchor="end" font-weight="bold">50</text>
<line x1="291.7" y1="376.6" x2="297.4" y2="376.6" stroke="#000" stroke-width="1.4"/>
<text transform="translate(289.8,380.03) scale(1.28,1)" font-size="9.8" text-anchor="end" font-weight="bold">100</text>
<line x1="291.7" y1="343.6" x2="297.4" y2="343.6" stroke="#000" stroke-width="1.4"/>
<text transform="translate(289.8,347.03) scale(1.28,1)" font-size="9.8" text-anchor="end" font-weight="bold">150</text>
<line x1="314.74" y1="442.6" x2="314.74" y2="447.2" stroke="#000" stroke-width="1.4"/>
<line x1="344.14" y1="442.6" x2="344.14" y2="447.2" stroke="#000" stroke-width="1.4"/>
<line x1="373.55" y1="442.6" x2="373.55" y2="447.2" stroke="#000" stroke-width="1.4"/>
<line x1="403.08" y1="442.6" x2="403.08" y2="447.2" stroke="#000" stroke-width="1.4"/>
<line x1="432.48" y1="442.6" x2="432.48" y2="447.2" stroke="#000" stroke-width="1.4"/>
<line x1="314.74" y1="359.98" x2="314.74" y2="385.53" stroke="#000" stroke-width="1.15"/>
<line x1="308.99" y1="359.98" x2="320.49" y2="359.98" stroke="#000" stroke-width="1.15"/>
<line x1="308.99" y1="385.53" x2="320.49" y2="385.53" stroke="#000" stroke-width="1.15"/>
<line x1="344.14" y1="390.5" x2="344.14" y2="404.14" stroke="#000" stroke-width="1.15"/>
<line x1="338.39" y1="390.5" x2="349.89" y2="390.5" stroke="#000" stroke-width="1.15"/>
<line x1="338.39" y1="404.14" x2="349.89" y2="404.14" stroke="#000" stroke-width="1.15"/>
<line x1="373.55" y1="385.04" x2="373.55" y2="406.13" stroke="#000" stroke-width="1.15"/>
<line x1="367.8" y1="385.04" x2="379.3" y2="385.04" stroke="#000" stroke-width="1.15"/>
<line x1="367.8" y1="406.13" x2="379.3" y2="406.13" stroke="#000" stroke-width="1.15"/>
<line x1="403.08" y1="388.76" x2="403.08" y2="406.63" stroke="#000" stroke-width="1.15"/>
<line x1="397.33" y1="388.76" x2="408.83" y2="388.76" stroke="#000" stroke-width="1.15"/>
<line x1="397.33" y1="406.63" x2="408.83" y2="406.63" stroke="#000" stroke-width="1.15"/>
<line x1="432.48" y1="385.53" x2="432.48" y2="404.64" stroke="#000" stroke-width="1.15"/>
<line x1="426.73" y1="385.53" x2="438.23" y2="385.53" stroke="#000" stroke-width="1.15"/>
<line x1="426.73" y1="404.64" x2="438.23" y2="404.64" stroke="#000" stroke-width="1.15"/>
<g fill="#000">
<ellipse cx="314.42" cy="350.51" rx="2.56" ry="2"/>
<ellipse cx="311.14" cy="355.5" rx="2.56" ry="2"/>
<ellipse cx="317.71" cy="355.5" rx="2.56" ry="2"/>
<ellipse cx="314.42" cy="366.67" rx="2.56" ry="2"/>
<ellipse cx="314.42" cy="371.53" rx="2.56" ry="2"/>
<ellipse cx="311.14" cy="375.74" rx="2.56" ry="2"/>
<ellipse cx="304.83" cy="378.76" rx="2.56" ry="2"/>
<ellipse cx="324.01" cy="378.1" rx="2.56" ry="2"/>
<ellipse cx="311.14" cy="382.7" rx="2.56" ry="2"/>
<ellipse cx="304.83" cy="385.99" rx="2.56" ry="2"/>
<ellipse cx="317.71" cy="385.59" rx="2.56" ry="2"/>
<ellipse cx="324.01" cy="384.67" rx="2.56" ry="2"/>
<rect x="331.57" y="386.61" width="5.12" height="4"/>
<rect x="338.14" y="388.32" width="5.12" height="4"/>
<rect x="344.71" y="389.24" width="5.12" height="4"/>
<rect x="338.14" y="392.92" width="5.12" height="4"/>
<rect x="331.57" y="395.81" width="5.12" height="4"/>
<rect x="344.71" y="395.55" width="5.12" height="4"/>
<rect x="350.89" y="395.81" width="5.12" height="4"/>
<rect x="338.14" y="399.09" width="5.12" height="4"/>
<rect x="344.71" y="399.75" width="5.12" height="4"/>
<rect x="338.14" y="406.98" width="5.12" height="4"/>
<rect x="344.71" y="408.03" width="5.12" height="4"/>
<rect x="341.16" y="415.26" width="5.12" height="4"/>
<path d="M363.43 383.23L366.25 387.11L360.61 387.11Z"/>
<path d="M376.57 383.23L379.39 387.11L373.75 387.11Z"/>
<path d="M383.14 383.23L385.95 387.11L380.32 387.11Z"/>
<path d="M370 389.4L372.82 393.29L367.18 393.29Z"/>
<path d="M376.57 388.48L379.39 392.37L373.75 392.37Z"/>
<path d="M376.57 392.82L379.39 396.7L373.75 396.7Z"/>
<path d="M370 395.71L372.82 399.6L367.18 399.6Z"/>
<path d="M370 402.54L372.82 406.43L367.18 406.43Z"/>
<path d="M376.57 402.02L379.39 405.9L373.75 405.9Z"/>
<path d="M376.57 406.88L379.39 410.76L373.75 410.76Z"/>
<path d="M370 410.56L372.82 414.44L367.18 414.44Z"/>
<path d="M373.15 398.34L375.97 402.22L370.34 402.22Z"/>
<path d="M397.42 388.74L400.23 384.86L394.6 384.86Z"/>
<path d="M402.67 389.66L405.49 385.78L399.86 385.78Z"/>
<path d="M407.66 388.09L410.48 384.2L404.85 384.2Z"/>
<path d="M392.82 397.02L395.63 393.13L390 393.13Z"/>
<path d="M412.13 397.28L414.95 393.4L409.32 393.4Z"/>
<path d="M397.42 399.25L400.23 395.37L394.6 395.37Z"/>
<path d="M402.67 398.86L405.49 394.97L399.86 394.97Z"/>
<path d="M407.66 400.17L410.48 396.29L404.85 396.29Z"/>
<path d="M397.42 405.56L400.23 401.67L394.6 401.67Z"/>
<path d="M407.66 406.48L410.48 402.59L404.85 402.59Z"/>
<path d="M402.67 410.42L405.49 406.54L399.86 406.54Z"/>
<path d="M402.67 416.99L405.49 413.11L399.86 413.11Z"/>
<path d="M435.26 377.12L438.07 379.42L435.26 381.72L432.44 379.42Z"/>
<path d="M428.69 381.06L431.5 383.36L428.69 385.66L425.87 383.36Z"/>
<path d="M428.69 384.34L431.5 386.64L428.69 388.94L425.87 386.64Z"/>
<path d="M435.26 385.66L438.07 387.96L435.26 390.26L432.44 387.96Z"/>
<path d="M428.69 390.52L431.5 392.82L428.69 395.12L425.87 392.82Z"/>
<path d="M441.43 391.57L444.25 393.87L441.43 396.17L438.61 393.87Z"/>
<path d="M428.69 395.25L431.5 397.55L428.69 399.85L425.87 397.55Z"/>
<path d="M435.26 395.51L438.07 397.81L435.26 400.11L432.44 397.81Z"/>
<path d="M428.69 399.45L431.5 401.75L428.69 404.05L425.87 401.75Z"/>
<path d="M435.26 403L438.07 405.3L435.26 407.6L432.44 405.3Z"/>
<path d="M431.97 409.96L434.79 412.26L431.97 414.56L429.15 412.26Z"/>
<path d="M431.97 400.77L434.79 403.07L431.97 405.37L429.15 403.07Z"/>
</g>
<line x1="314.74" y1="346.5" x2="343.77" y2="346.5" stroke="#000" stroke-width="1.25"/>
<text transform="translate(329.25,346.39) scale(1.2,1)" font-size="12.8" text-anchor="middle" font-weight="normal" letter-spacing="1.35" stroke="#000" stroke-width="0.35">****</text>
<line x1="314.74" y1="332.5" x2="373.05" y2="332.5" stroke="#000" stroke-width="1.25"/>
<text transform="translate(343.64,332.24) scale(1.2,1)" font-size="12.8" text-anchor="middle" font-weight="normal" letter-spacing="1.35" stroke="#000" stroke-width="0.35">****</text>
<line x1="314.74" y1="318.5" x2="402.33" y2="318.5" stroke="#000" stroke-width="1.25"/>
<text transform="translate(358.28,318.1) scale(1.2,1)" font-size="12.8" text-anchor="middle" font-weight="normal" letter-spacing="1.35" stroke="#000" stroke-width="0.35">****</text>
<line x1="314.74" y1="304.5" x2="431.86" y2="304.5" stroke="#000" stroke-width="1.25"/>
<text transform="translate(373.17,303.96) scale(1.2,1)" font-size="12.8" text-anchor="middle" font-weight="normal" letter-spacing="1.35" stroke="#000" stroke-width="0.35">****</text>
<text transform="translate(318.24,456.6) scale(1.35,1) rotate(-45)" font-size="9.6" text-anchor="end" font-weight="bold">control</text>
<text transform="translate(347.64,456.6) scale(1.35,1) rotate(-45)" font-size="9.6" text-anchor="end" font-weight="bold">CUS</text>
<text transform="translate(377.05,456.6) scale(1.35,1) rotate(-45)" font-size="9.6" text-anchor="end" font-weight="bold">CUS+FLU</text>
<text transform="translate(406.58,456.6) scale(1.35,1) rotate(-45)" font-size="9.6" text-anchor="end" font-weight="bold">CUS+EE</text>
<text transform="translate(435.98,456.6) scale(1.35,1) rotate(-45)" font-size="9.6" text-anchor="end" font-weight="bold">CUS+FLU+EE</text>
<text transform="translate(264.9,461.8) scale(1.2,1) rotate(-90)" font-size="9.5" text-anchor="start" font-weight="bold">movement distance in OFT (m)</text>
</g>
<g>
<text transform="translate(460.4,299.8)" font-size="23.2" text-anchor="start" font-weight="normal">F</text>
<g stroke="#000" stroke-width="1.8">
<rect x="531.65" y="388.91" width="22.13" height="48.69" fill="#8e8e8e"/>
<rect x="560.93" y="368.56" width="22.13" height="69.04" fill="#b2b2b2"/>
<rect x="590.46" y="370.3" width="21.88" height="67.3" fill="#909090"/>
<rect x="619.74" y="370.55" width="22.13" height="67.05" fill="#dcdcdc"/>
<rect x="649.02" y="366.83" width="22.13" height="70.77" fill="#6e6e6e"/>
</g>
<line x1="524.9" y1="331.5" x2="524.9" y2="438.3" stroke="#000" stroke-width="1.4"/>
<line x1="524.2" y1="437.6" x2="675" y2="437.6" stroke="#000" stroke-width="1.4"/>
<line x1="519.2" y1="437.6" x2="524.9" y2="437.6" stroke="#000" stroke-width="1.4"/>
<text transform="translate(517.3,441.19) scale(1.21,1)" font-size="10.25" text-anchor="end" font-weight="bold">0</text>
<line x1="519.2" y1="416.52" x2="524.9" y2="416.52" stroke="#000" stroke-width="1.4"/>
<text transform="translate(517.3,420.11) scale(1.21,1)" font-size="10.25" text-anchor="end" font-weight="bold">20</text>
<line x1="519.2" y1="395.44" x2="524.9" y2="395.44" stroke="#000" stroke-width="1.4"/>
<text transform="translate(517.3,399.03) scale(1.21,1)" font-size="10.25" text-anchor="end" font-weight="bold">40</text>
<line x1="519.2" y1="374.36" x2="524.9" y2="374.36" stroke="#000" stroke-width="1.4"/>
<text transform="translate(517.3,377.95) scale(1.21,1)" font-size="10.25" text-anchor="end" font-weight="bold">60</text>
<line x1="519.2" y1="353.28" x2="524.9" y2="353.28" stroke="#000" stroke-width="1.4"/>
<text transform="translate(517.3,356.87) scale(1.21,1)" font-size="10.25" text-anchor="end" font-weight="bold">80</text>
<line x1="519.2" y1="332.2" x2="524.9" y2="332.2" stroke="#000" stroke-width="1.4"/>
<text transform="translate(517.3,335.79) scale(1.21,1)" font-size="10.25" text-anchor="end" font-weight="bold">100</text>
<line x1="542.72" y1="437.6" x2="542.72" y2="442.2" stroke="#000" stroke-width="1.4"/>
<line x1="572" y1="437.6" x2="572" y2="442.2" stroke="#000" stroke-width="1.4"/>
<line x1="601.4" y1="437.6" x2="601.4" y2="442.2" stroke="#000" stroke-width="1.4"/>
<line x1="630.81" y1="437.6" x2="630.81" y2="442.2" stroke="#000" stroke-width="1.4"/>
<line x1="660.09" y1="437.6" x2="660.09" y2="442.2" stroke="#000" stroke-width="1.4"/>
<line x1="542.72" y1="381.32" x2="542.72" y2="395.46" stroke="#000" stroke-width="1.15"/>
<line x1="536.97" y1="381.32" x2="548.47" y2="381.32" stroke="#000" stroke-width="1.15"/>
<line x1="536.97" y1="395.46" x2="548.47" y2="395.46" stroke="#000" stroke-width="1.15"/>
<line x1="572" y1="359.48" x2="572" y2="375.61" stroke="#000" stroke-width="1.15"/>
<line x1="566.25" y1="359.48" x2="577.75" y2="359.48" stroke="#000" stroke-width="1.15"/>
<line x1="566.25" y1="375.61" x2="577.75" y2="375.61" stroke="#000" stroke-width="1.15"/>
<line x1="601.4" y1="364.44" x2="601.4" y2="375.61" stroke="#000" stroke-width="1.15"/>
<line x1="595.65" y1="364.44" x2="607.15" y2="364.44" stroke="#000" stroke-width="1.15"/>
<line x1="595.65" y1="375.61" x2="607.15" y2="375.61" stroke="#000" stroke-width="1.15"/>
<line x1="630.81" y1="365.68" x2="630.81" y2="374.37" stroke="#000" stroke-width="1.15"/>
<line x1="625.06" y1="365.68" x2="636.56" y2="365.68" stroke="#000" stroke-width="1.15"/>
<line x1="625.06" y1="374.37" x2="636.56" y2="374.37" stroke="#000" stroke-width="1.15"/>
<line x1="660.09" y1="358.98" x2="660.09" y2="373.13" stroke="#000" stroke-width="1.15"/>
<line x1="654.34" y1="358.98" x2="665.84" y2="358.98" stroke="#000" stroke-width="1.15"/>
<line x1="654.34" y1="373.13" x2="665.84" y2="373.13" stroke="#000" stroke-width="1.15"/>
<g fill="#000">
<ellipse cx="552.28" cy="374.17" rx="2.42" ry="2"/>
<ellipse cx="545.71" cy="377.19" rx="2.42" ry="2"/>
<ellipse cx="539.14" cy="377.85" rx="2.42" ry="2"/>
<ellipse cx="542.42" cy="382.45" rx="2.42" ry="2"/>
<ellipse cx="542.42" cy="387.7" rx="2.42" ry="2"/>
<ellipse cx="548.99" cy="387.04" rx="2.42" ry="2"/>
<ellipse cx="535.85" cy="389.01" rx="2.42" ry="2"/>
<ellipse cx="532.83" cy="392.96" rx="2.42" ry="2"/>
<ellipse cx="539.14" cy="395.58" rx="2.42" ry="2"/>
<ellipse cx="552.01" cy="395.58" rx="2.42" ry="2"/>
<ellipse cx="545.71" cy="397.55" rx="2.42" ry="2"/>
<ellipse cx="532.83" cy="398.61" rx="2.42" ry="2"/>
<rect x="572.85" y="351.93" width="4.84" height="4"/>
<rect x="566.28" y="352.85" width="4.84" height="4"/>
<rect x="566.28" y="359.03" width="4.84" height="4"/>
<rect x="559.71" y="360.34" width="4.84" height="4"/>
<rect x="572.85" y="363.76" width="4.84" height="4"/>
<rect x="579.03" y="362.71" width="4.84" height="4"/>
<rect x="579.03" y="366.65" width="4.84" height="4"/>
<rect x="566.28" y="369.93" width="4.84" height="4"/>
<rect x="572.85" y="369.93" width="4.84" height="4"/>
<rect x="569.57" y="373.88" width="4.84" height="4"/>
<rect x="563" y="376.11" width="4.84" height="4"/>
<rect x="576.13" y="375.58" width="4.84" height="4"/>
<path d="M606.15 359.32L608.81 363.21L603.48 363.21Z"/>
<path d="M591.43 360.64L594.09 364.52L588.77 364.52Z"/>
<path d="M596.95 362.61L599.61 366.49L594.29 366.49Z"/>
<path d="M601.28 362.61L603.95 366.49L598.62 366.49Z"/>
<path d="M591.43 365.24L594.09 369.12L588.77 369.12Z"/>
<path d="M606.15 366.29L608.81 370.17L603.48 370.17Z"/>
<path d="M601.28 367.21L603.95 371.09L598.62 371.09Z"/>
<path d="M596.95 368.52L599.61 372.41L594.29 372.41Z"/>
<path d="M596.95 373.78L599.61 377.66L594.29 377.66Z"/>
<path d="M601.28 375.09L603.95 378.97L598.62 378.97Z"/>
<path d="M606.15 375.09L608.81 378.97L603.48 378.97Z"/>
<path d="M596.95 378.11L599.61 382L594.29 382Z"/>
<path d="M630.73 362.87L633.39 358.98L628.07 358.98Z"/>
<path d="M633.36 367.46L636.02 363.58L630.7 363.58Z"/>
<path d="M636.64 368.38L639.3 364.5L633.98 364.5Z"/>
<path d="M625.21 369.44L627.87 365.55L622.55 365.55Z"/>
<path d="M628.1 370.75L630.76 366.86L625.44 366.86Z"/>
<path d="M630.73 371.41L633.39 367.52L628.07 367.52Z"/>
<path d="M636.64 371.41L639.3 367.52L633.98 367.52Z"/>
<path d="M629.42 374.69L632.08 370.81L626.75 370.81Z"/>
<path d="M633.36 377.32L636.02 373.43L630.7 373.43Z"/>
<path d="M624.82 378.37L627.48 374.49L622.16 374.49Z"/>
<path d="M636.64 377.58L639.3 373.7L633.98 373.7Z"/>
<path d="M630.73 374.03L633.39 370.15L628.07 370.15Z"/>
<path d="M660.03 353.87L662.69 356.17L660.03 358.47L657.37 356.17Z"/>
<path d="M650.44 355.18L653.1 357.48L650.44 359.78L647.78 357.48Z"/>
<path d="M664.89 356.89L667.55 359.19L664.89 361.49L662.23 359.19Z"/>
<path d="M655.3 358.2L657.96 360.5L655.3 362.8L652.64 360.5Z"/>
<path d="M660.03 358.47L662.69 360.77L660.03 363.07L657.37 360.77Z"/>
<path d="M650.44 362.41L653.1 364.71L650.44 367.01L647.78 364.71Z"/>
<path d="M655.3 362.41L657.96 364.71L655.3 367.01L652.64 364.71Z"/>
<path d="M664.89 366.61L667.55 368.91L664.89 371.21L662.23 368.91Z"/>
<path d="M660.03 368.98L662.69 371.28L660.03 373.58L657.37 371.28Z"/>
<path d="M662 374.63L664.66 376.93L662 379.23L659.34 376.93Z"/>
<path d="M657.27 377.12L659.93 379.42L657.27 381.72L654.61 379.42Z"/>
<path d="M660.03 364.38L662.69 366.68L660.03 368.98L657.37 366.68Z"/>
</g>
<line x1="542.72" y1="351.5" x2="571.5" y2="351.5" stroke="#000" stroke-width="1"/>
<text transform="translate(557.43,349.86) scale(1.21,1)" font-size="12.8" text-anchor="middle" font-weight="normal" letter-spacing="1.35" stroke="#000" stroke-width="0.35">****</text>
<line x1="542.72" y1="335.5" x2="601.03" y2="335.5" stroke="#000" stroke-width="1.25"/>
<text transform="translate(571.82,334.97) scale(1.21,1)" font-size="12.8" text-anchor="middle" font-weight="normal" letter-spacing="1.35" stroke="#000" stroke-width="0.35">****</text>
<line x1="542.72" y1="321.5" x2="630.81" y2="321.5" stroke="#000" stroke-width="1.25"/>
<text transform="translate(586.46,320.09) scale(1.21,1)" font-size="12.8" text-anchor="middle" font-weight="normal" letter-spacing="1.35" stroke="#000" stroke-width="0.35">****</text>
<line x1="542.72" y1="305.5" x2="660.09" y2="305.5" stroke="#000" stroke-width="1.25"/>
<text transform="translate(601.1,304.95) scale(1.21,1)" font-size="12.8" text-anchor="middle" font-weight="normal" letter-spacing="1.35" stroke="#000" stroke-width="0.35">****</text>
<text transform="translate(546.22,451.6) scale(1.21,1) rotate(-45)" font-size="10.13" text-anchor="end" font-weight="bold">control</text>
<text transform="translate(575.5,451.6) scale(1.21,1) rotate(-45)" font-size="10.13" text-anchor="end" font-weight="bold">CUS</text>
<text transform="translate(604.9,451.6) scale(1.21,1) rotate(-45)" font-size="10.13" text-anchor="end" font-weight="bold">CUS+FLU</text>
<text transform="translate(634.31,451.6) scale(1.21,1) rotate(-45)" font-size="10.13" text-anchor="end" font-weight="bold">CUS+EE</text>
<text transform="translate(663.59,451.6) scale(1.21,1) rotate(-45)" font-size="10.13" text-anchor="end" font-weight="bold">CUS+FLU+EE</text>
<text transform="translate(493.4,446.4) scale(1.13,1) rotate(-90)" font-size="10.33" text-anchor="start" font-weight="bold">Immobility Time in FST(s)</text>
</g>
<g>
<text transform="translate(2.6,570.9)" font-size="23.2" text-anchor="start" font-weight="normal">G</text>
<g stroke="#000" stroke-width="1.8">
<rect x="72.19" y="621.62" width="21.88" height="77.98" fill="#8e8e8e"/>
<rect x="101.47" y="641.72" width="22.37" height="57.88" fill="#b2b2b2"/>
<rect x="131.25" y="642.71" width="22.37" height="56.89" fill="#909090"/>
<rect x="161.02" y="638.49" width="22.37" height="61.11" fill="#dcdcdc"/>
<rect x="190.8" y="640.23" width="22.13" height="59.37" fill="#6e6e6e"/>
</g>
<line x1="66.1" y1="595.8" x2="66.1" y2="700.2" stroke="#000" stroke-width="1.2"/>
<line x1="65.5" y1="699.6" x2="217" y2="699.6" stroke="#000" stroke-width="1.2"/>
<line x1="60.7" y1="699.6" x2="66.1" y2="699.6" stroke="#000" stroke-width="1.2"/>
<text transform="translate(58.8,702.33) scale(1.26,1)" font-size="7.8" text-anchor="end" font-weight="bold">0</text>
<line x1="60.7" y1="678.96" x2="66.1" y2="678.96" stroke="#000" stroke-width="1.2"/>
<text transform="translate(58.8,681.69) scale(1.26,1)" font-size="7.8" text-anchor="end" font-weight="bold">20</text>
<line x1="60.7" y1="658.32" x2="66.1" y2="658.32" stroke="#000" stroke-width="1.2"/>
<text transform="translate(58.8,661.05) scale(1.26,1)" font-size="7.8" text-anchor="end" font-weight="bold">40</text>
<line x1="60.7" y1="637.68" x2="66.1" y2="637.68" stroke="#000" stroke-width="1.2"/>
<text transform="translate(58.8,640.41) scale(1.26,1)" font-size="7.8" text-anchor="end" font-weight="bold">60</text>
<line x1="60.7" y1="617.04" x2="66.1" y2="617.04" stroke="#000" stroke-width="1.2"/>
<text transform="translate(58.8,619.77) scale(1.26,1)" font-size="7.8" text-anchor="end" font-weight="bold">80</text>
<line x1="60.7" y1="596.4" x2="66.1" y2="596.4" stroke="#000" stroke-width="1.2"/>
<text transform="translate(58.8,599.13) scale(1.26,1)" font-size="7.8" text-anchor="end" font-weight="bold">100</text>
<line x1="83.13" y1="699.6" x2="83.13" y2="704.2" stroke="#000" stroke-width="1.2"/>
<line x1="112.66" y1="699.6" x2="112.66" y2="704.2" stroke="#000" stroke-width="1.2"/>
<line x1="142.43" y1="699.6" x2="142.43" y2="704.2" stroke="#000" stroke-width="1.2"/>
<line x1="172.21" y1="699.6" x2="172.21" y2="704.2" stroke="#000" stroke-width="1.2"/>
<line x1="201.86" y1="699.6" x2="201.86" y2="704.2" stroke="#000" stroke-width="1.2"/>
<line x1="83.13" y1="617" x2="83.13" y2="624.44" stroke="#000" stroke-width="1.15"/>
<line x1="77.38" y1="617" x2="88.88" y2="617" stroke="#000" stroke-width="1.15"/>
<line x1="77.38" y1="624.44" x2="88.88" y2="624.44" stroke="#000" stroke-width="1.15"/>
<line x1="112.66" y1="635.61" x2="112.66" y2="649.75" stroke="#000" stroke-width="1.15"/>
<line x1="106.91" y1="635.61" x2="118.41" y2="635.61" stroke="#000" stroke-width="1.15"/>
<line x1="106.91" y1="649.75" x2="118.41" y2="649.75" stroke="#000" stroke-width="1.15"/>
<line x1="142.43" y1="635.61" x2="142.43" y2="647.52" stroke="#000" stroke-width="1.15"/>
<line x1="136.68" y1="635.61" x2="148.18" y2="635.61" stroke="#000" stroke-width="1.15"/>
<line x1="136.68" y1="647.52" x2="148.18" y2="647.52" stroke="#000" stroke-width="1.15"/>
<line x1="172.21" y1="629.9" x2="172.21" y2="646.03" stroke="#000" stroke-width="1.15"/>
<line x1="166.46" y1="629.9" x2="177.96" y2="629.9" stroke="#000" stroke-width="1.15"/>
<line x1="166.46" y1="646.03" x2="177.96" y2="646.03" stroke="#000" stroke-width="1.15"/>
<line x1="201.86" y1="633.87" x2="201.86" y2="645.53" stroke="#000" stroke-width="1.15"/>
<line x1="196.11" y1="633.87" x2="207.61" y2="633.87" stroke="#000" stroke-width="1.15"/>
<line x1="196.11" y1="645.53" x2="207.61" y2="645.53" stroke="#000" stroke-width="1.15"/>
<g fill="#000">
<ellipse cx="81.14" cy="614.2" rx="2.4" ry="2"/>
<ellipse cx="77.2" cy="615.51" rx="2.4" ry="2"/>
<ellipse cx="89.02" cy="615.51" rx="2.4" ry="2"/>
<ellipse cx="85.08" cy="616.56" rx="2.4" ry="2"/>
<ellipse cx="92.31" cy="617.48" rx="2.4" ry="2"/>
<ellipse cx="73.26" cy="620.11" rx="2.4" ry="2"/>
<ellipse cx="78.51" cy="621.42" rx="2.4" ry="2"/>
<ellipse cx="83.11" cy="620.77" rx="2.4" ry="2"/>
<ellipse cx="89.02" cy="621.42" rx="2.4" ry="2"/>
<ellipse cx="92.96" cy="621.82" rx="2.4" ry="2"/>
<ellipse cx="85.08" cy="624.05" rx="2.4" ry="2"/>
<ellipse cx="83.11" cy="629.31" rx="2.4" ry="2"/>
<rect x="113.95" y="626.91" width="4.8" height="4"/>
<rect x="107.38" y="629.93" width="4.8" height="4"/>
<rect x="113.56" y="634.53" width="4.8" height="4"/>
<rect x="107.38" y="636.5" width="4.8" height="4"/>
<rect x="100.81" y="641.76" width="4.8" height="4"/>
<rect x="113.56" y="642.15" width="4.8" height="4"/>
<rect x="119.73" y="641.1" width="4.8" height="4"/>
<rect x="100.81" y="645.7" width="4.8" height="4"/>
<rect x="107.38" y="641.1" width="4.8" height="4"/>
<rect x="119.73" y="647.67" width="4.8" height="4"/>
<rect x="100.81" y="649.64" width="4.8" height="4"/>
<rect x="113.56" y="649.64" width="4.8" height="4"/>
<path d="M137.37 630.49L140.01 634.38L134.73 634.38Z"/>
<path d="M132.38 632.46L135.02 636.35L129.74 636.35Z"/>
<path d="M152.09 634.43L154.73 638.32L149.45 638.32Z"/>
<path d="M146.83 635.75L149.47 639.63L144.19 639.63Z"/>
<path d="M132.38 637.32L135.02 641.21L129.74 641.21Z"/>
<path d="M137.37 636.8L140.01 640.68L134.73 640.68Z"/>
<path d="M142.63 639.03L145.27 642.92L139.99 642.92Z"/>
<path d="M139.61 642.32L142.25 646.2L136.97 646.2Z"/>
<path d="M145.52 642.97L148.16 646.86L142.88 646.86Z"/>
<path d="M142.63 646.91L145.27 650.8L139.99 650.8Z"/>
<path d="M137.37 649.54L140.01 653.43L134.73 653.43Z"/>
<path d="M147.49 648.89L150.13 652.77L144.85 652.77Z"/>
<path d="M181.87 627.46L184.51 623.58L179.23 623.58Z"/>
<path d="M172.01 629.7L174.65 625.81L169.37 625.81Z"/>
<path d="M162.16 631.41L164.8 627.52L159.52 627.52Z"/>
<path d="M181.87 632.72L184.51 628.84L179.23 628.84Z"/>
<path d="M162.16 639.29L164.8 635.4L159.52 635.4Z"/>
<path d="M181.87 638.63L184.51 634.75L179.23 634.75Z"/>
<path d="M162.16 644.55L164.8 640.66L159.52 640.66Z"/>
<path d="M181.87 644.55L184.51 640.66L179.23 640.66Z"/>
<path d="M172.01 645.86L174.65 641.97L169.37 641.97Z"/>
<path d="M162.16 649.8L164.8 645.92L159.52 645.92Z"/>
<path d="M181.87 649.14L184.51 645.26L179.23 645.26Z"/>
<path d="M172.01 641.26L174.65 637.38L169.37 637.38Z"/>
<path d="M211.43 629.63L214.07 631.93L211.43 634.23L208.79 631.93Z"/>
<path d="M196.98 630.29L199.62 632.59L196.98 634.89L194.34 632.59Z"/>
<path d="M192.12 631.87L194.76 634.17L192.12 636.47L189.48 634.17Z"/>
<path d="M201.84 631.34L204.48 633.64L201.84 635.94L199.2 633.64Z"/>
<path d="M206.83 633.18L209.47 635.48L206.83 637.78L204.19 635.48Z"/>
<path d="M196.98 636.6L199.62 638.9L196.98 641.2L194.34 638.9Z"/>
<path d="M206.83 639.49L209.47 641.79L206.83 644.09L204.19 641.79Z"/>
<path d="M201.84 640.8L204.48 643.1L201.84 645.4L199.2 643.1Z"/>
<path d="M196.98 642.12L199.62 644.42L196.98 646.72L194.34 644.42Z"/>
<path d="M206.83 644.09L209.47 646.39L206.83 648.69L204.19 646.39Z"/>
<path d="M196.98 647.37L199.62 649.67L196.98 651.97L194.34 649.67Z"/>
<path d="M201.84 636.2L204.48 638.5L201.84 640.8L199.2 638.5Z"/>
</g>
<line x1="83" y1="610.5" x2="112.53" y2="610.5" stroke="#000" stroke-width="1.25"/>
<text transform="translate(98,609.37) scale(1.26,1)" font-size="12.8" text-anchor="middle" font-weight="normal" letter-spacing="1.35" stroke="#000" stroke-width="0.35">****</text>
<line x1="83" y1="595.5" x2="142.31" y2="595.5" stroke="#000" stroke-width="1.25"/>
<text transform="translate(112.89,594.73) scale(1.26,1)" font-size="12.8" text-anchor="middle" font-weight="normal" letter-spacing="1.35" stroke="#000" stroke-width="0.35">****</text>
<line x1="83" y1="580.5" x2="172.08" y2="580.5" stroke="#000" stroke-width="1.25"/>
<text transform="translate(127.28,580.09) scale(1.26,1)" font-size="12.8" text-anchor="middle" font-weight="normal" letter-spacing="1.35" stroke="#000" stroke-width="0.35">****</text>
<line x1="83" y1="565.5" x2="201.86" y2="565.5" stroke="#000" stroke-width="1.25"/>
<text transform="translate(142.41,565.2) scale(1.26,1)" font-size="12.8" text-anchor="middle" font-weight="normal" letter-spacing="1.35" stroke="#000" stroke-width="0.35">****</text>
<text transform="translate(86.63,713.6) scale(1.3,1) rotate(-45)" font-size="9.6" text-anchor="end" font-weight="bold">control</text>
<text transform="translate(116.16,713.6) scale(1.3,1) rotate(-45)" font-size="9.6" text-anchor="end" font-weight="bold">CUS</text>
<text transform="translate(145.93,713.6) scale(1.3,1) rotate(-45)" font-size="9.6" text-anchor="end" font-weight="bold">CUS+FLU</text>
<text transform="translate(175.71,713.6) scale(1.3,1) rotate(-45)" font-size="9.6" text-anchor="end" font-weight="bold">CUS+EE</text>
<text transform="translate(205.36,713.6) scale(1.3,1) rotate(-45)" font-size="9.6" text-anchor="end" font-weight="bold">CUS+FLU+EE</text>
<text transform="translate(34.6,716.3) scale(1.17,1) rotate(-90)" font-size="10.25" text-anchor="start" font-weight="bold">Sucrose Preference Test<tspan font-weight="normal" font-size="10.3" stroke="none">(%)</tspan></text>
</g>
<g>
<text transform="translate(233.4,570.6)" font-size="23.2" text-anchor="start" font-weight="normal">H</text>
<g stroke="#000" stroke-width="1.8">
<rect x="302.44" y="635.51" width="22.13" height="61.59" fill="#8e8e8e"/>
<rect x="331.47" y="655.86" width="22.37" height="41.24" fill="#b2b2b2"/>
<rect x="360.75" y="657.6" width="22.13" height="39.5" fill="#909090"/>
<rect x="389.78" y="658.34" width="22.37" height="38.76" fill="#dcdcdc"/>
<rect x="419.06" y="652.14" width="22.13" height="44.96" fill="#6e6e6e"/>
</g>
<line x1="296.6" y1="589.7" x2="296.6" y2="697.8" stroke="#000" stroke-width="1.4"/>
<line x1="295.9" y1="697.1" x2="446" y2="697.1" stroke="#000" stroke-width="1.4"/>
<line x1="290.9" y1="697.1" x2="296.6" y2="697.1" stroke="#000" stroke-width="1.4"/>
<text transform="translate(289,700.85) scale(1.18,1)" font-size="10.7" text-anchor="end" font-weight="bold">0</text>
<line x1="290.9" y1="661.53" x2="296.6" y2="661.53" stroke="#000" stroke-width="1.4"/>
<text transform="translate(289,665.28) scale(1.18,1)" font-size="10.7" text-anchor="end" font-weight="bold">50</text>
<line x1="290.9" y1="625.97" x2="296.6" y2="625.97" stroke="#000" stroke-width="1.4"/>
<text transform="translate(289,629.71) scale(1.18,1)" font-size="10.7" text-anchor="end" font-weight="bold">100</text>
<line x1="290.9" y1="590.4" x2="296.6" y2="590.4" stroke="#000" stroke-width="1.4"/>
<text transform="translate(289,594.14) scale(1.18,1)" font-size="10.7" text-anchor="end" font-weight="bold">150</text>
<line x1="313.5" y1="697.1" x2="313.5" y2="701.7" stroke="#000" stroke-width="1.4"/>
<line x1="342.66" y1="697.1" x2="342.66" y2="701.7" stroke="#000" stroke-width="1.4"/>
<line x1="371.81" y1="697.1" x2="371.81" y2="701.7" stroke="#000" stroke-width="1.4"/>
<line x1="400.97" y1="697.1" x2="400.97" y2="701.7" stroke="#000" stroke-width="1.4"/>
<line x1="430.12" y1="697.1" x2="430.12" y2="701.7" stroke="#000" stroke-width="1.4"/>
<line x1="313.5" y1="622.46" x2="313.5" y2="646.28" stroke="#000" stroke-width="1.15"/>
<line x1="307.75" y1="622.46" x2="319.25" y2="622.46" stroke="#000" stroke-width="1.15"/>
<line x1="307.75" y1="646.28" x2="319.25" y2="646.28" stroke="#000" stroke-width="1.15"/>
<line x1="342.66" y1="645.53" x2="342.66" y2="665.38" stroke="#000" stroke-width="1.15"/>
<line x1="336.91" y1="645.53" x2="348.41" y2="645.53" stroke="#000" stroke-width="1.15"/>
<line x1="336.91" y1="665.38" x2="348.41" y2="665.38" stroke="#000" stroke-width="1.15"/>
<line x1="371.81" y1="641.81" x2="371.81" y2="671.59" stroke="#000" stroke-width="1.15"/>
<line x1="366.06" y1="641.81" x2="377.56" y2="641.81" stroke="#000" stroke-width="1.15"/>
<line x1="366.06" y1="671.59" x2="377.56" y2="671.59" stroke="#000" stroke-width="1.15"/>
<line x1="400.97" y1="644.29" x2="400.97" y2="670.84" stroke="#000" stroke-width="1.15"/>
<line x1="395.22" y1="644.29" x2="406.72" y2="644.29" stroke="#000" stroke-width="1.15"/>
<line x1="395.22" y1="670.84" x2="406.72" y2="670.84" stroke="#000" stroke-width="1.15"/>
<line x1="430.12" y1="644.29" x2="430.12" y2="657.94" stroke="#000" stroke-width="1.15"/>
<line x1="424.37" y1="644.29" x2="435.87" y2="644.29" stroke="#000" stroke-width="1.15"/>
<line x1="424.37" y1="657.94" x2="435.87" y2="657.94" stroke="#000" stroke-width="1.15"/>
<g fill="#000">
<ellipse cx="311.14" cy="614.46" rx="2.36" ry="2"/>
<ellipse cx="315.74" cy="613.54" rx="2.36" ry="2"/>
<ellipse cx="308.51" cy="628.39" rx="2.36" ry="2"/>
<ellipse cx="313.5" cy="629.31" rx="2.36" ry="2"/>
<ellipse cx="303.91" cy="635.88" rx="2.36" ry="2"/>
<ellipse cx="313.5" cy="636.27" rx="2.36" ry="2"/>
<ellipse cx="318.36" cy="635.88" rx="2.36" ry="2"/>
<ellipse cx="322.96" cy="636.53" rx="2.36" ry="2"/>
<ellipse cx="308.51" cy="639.82" rx="2.36" ry="2"/>
<ellipse cx="318.36" cy="642.45" rx="2.36" ry="2"/>
<ellipse cx="313.5" cy="644.42" rx="2.36" ry="2"/>
<ellipse cx="313.5" cy="654.66" rx="2.36" ry="2"/>
<rect x="340.31" y="636.9" width="4.72" height="4"/>
<rect x="337.42" y="642.68" width="4.72" height="4"/>
<rect x="342.94" y="644.78" width="4.72" height="4"/>
<rect x="330.46" y="647.01" width="4.72" height="4"/>
<rect x="349.77" y="646.36" width="4.72" height="4"/>
<rect x="337.42" y="648.99" width="4.72" height="4"/>
<rect x="342.94" y="649.64" width="4.72" height="4"/>
<rect x="337.42" y="653.58" width="4.72" height="4"/>
<rect x="330.46" y="664.09" width="4.72" height="4"/>
<rect x="349.77" y="664.75" width="4.72" height="4"/>
<rect x="342.94" y="666.07" width="4.72" height="4"/>
<rect x="330.46" y="668.69" width="4.72" height="4"/>
<path d="M368.69 630.75L371.28 634.64L366.09 634.64Z"/>
<path d="M375.26 634.17L377.85 638.06L372.66 638.06Z"/>
<path d="M368.69 637.32L371.28 641.21L366.09 641.21Z"/>
<path d="M371.84 642.97L374.44 646.86L369.24 646.86Z"/>
<path d="M368.69 660.05L371.28 663.94L366.09 663.94Z"/>
<path d="M375.26 662.68L377.85 666.57L372.66 666.57Z"/>
<path d="M362.38 658.74L364.98 662.62L359.78 662.62Z"/>
<path d="M381.82 660.71L384.42 664.6L379.23 664.6Z"/>
<path d="M362.38 664.39L364.98 668.27L359.78 668.27Z"/>
<path d="M381.82 665.7L384.42 669.59L379.23 669.59Z"/>
<path d="M375.26 667.94L377.85 671.82L372.66 671.82Z"/>
<path d="M362.38 670.56L364.98 674.45L359.78 674.45Z"/>
<path d="M410.55 638.63L413.15 634.75L407.96 634.75Z"/>
<path d="M400.96 641.92L403.56 638.03L398.37 638.03Z"/>
<path d="M391.5 644.94L394.1 641.05L388.91 641.05Z"/>
<path d="M400.96 649.14L403.56 645.26L398.37 645.26Z"/>
<path d="M396.1 657.03L398.7 653.14L393.51 653.14Z"/>
<path d="M405.96 656.37L408.55 652.49L403.36 652.49Z"/>
<path d="M400.96 664.91L403.56 661.03L398.37 661.03Z"/>
<path d="M391.5 668.19L394.1 664.31L388.91 664.31Z"/>
<path d="M410.55 668.85L413.15 664.97L407.96 664.97Z"/>
<path d="M400.96 671.48L403.56 667.59L398.37 667.59Z"/>
<path d="M410.55 672.79L413.15 668.91L407.96 668.91Z"/>
<path d="M391.5 678.05L394.1 674.16L388.91 674.16Z"/>
<path d="M439.72 638.83L442.32 641.13L439.72 643.43L437.13 641.13Z"/>
<path d="M420.41 642.12L423 644.42L420.41 646.72L417.81 644.42Z"/>
<path d="M433.15 642.12L435.75 644.42L433.15 646.72L430.56 644.42Z"/>
<path d="M439.72 643.69L442.32 645.99L439.72 648.29L437.13 645.99Z"/>
<path d="M426.98 646.06L429.57 648.36L426.98 650.66L424.38 648.36Z"/>
<path d="M433.15 648.03L435.75 650.33L433.15 652.63L430.56 650.33Z"/>
<path d="M420.41 653.28L423 655.58L420.41 657.88L417.81 655.58Z"/>
<path d="M426.98 652.36L429.57 654.66L426.98 656.96L424.38 654.66Z"/>
<path d="M433.15 653.28L435.75 655.58L433.15 657.88L430.56 655.58Z"/>
<path d="M439.72 652.36L442.32 654.66L439.72 656.96L437.13 654.66Z"/>
<path d="M433.15 657.23L435.75 659.53L433.15 661.83L430.56 659.53Z"/>
<path d="M426.98 660.51L429.57 662.81L426.98 665.11L424.38 662.81Z"/>
</g>
<line x1="313.5" y1="612.5" x2="342.53" y2="612.5" stroke="#000" stroke-width="1"/>
<text transform="translate(328.44,611.35) scale(1.18,1)" font-size="12.8" text-anchor="middle" font-weight="normal" letter-spacing="1.35" stroke="#000" stroke-width="0.35">***</text>
<line x1="313.5" y1="597.5" x2="371.81" y2="597.5" stroke="#000" stroke-width="1.25"/>
<text transform="translate(343.08,596.21) scale(1.18,1)" font-size="12.8" text-anchor="middle" font-weight="normal" letter-spacing="1.35" stroke="#000" stroke-width="0.35">***</text>
<line x1="313.5" y1="582.5" x2="400.84" y2="582.5" stroke="#000" stroke-width="1.25"/>
<text transform="translate(357.22,580.83) scale(1.18,1)" font-size="12.8" text-anchor="middle" font-weight="normal" letter-spacing="1.35" stroke="#000" stroke-width="0.35">****</text>
<line x1="313.5" y1="566.5" x2="430.12" y2="566.5" stroke="#000" stroke-width="1.25"/>
<text transform="translate(372.11,565.94) scale(1.18,1)" font-size="12.8" text-anchor="middle" font-weight="normal" letter-spacing="1.35" stroke="#000" stroke-width="0.35">**</text>
<text transform="translate(317,711.1) scale(1.18,1) rotate(-45)" font-size="10.6" text-anchor="end" font-weight="bold">control</text>
<text transform="translate(346.16,711.1) scale(1.18,1) rotate(-45)" font-size="10.6" text-anchor="end" font-weight="bold">CUS</text>
<text transform="translate(375.31,711.1) scale(1.18,1) rotate(-45)" font-size="10.6" text-anchor="end" font-weight="bold">CUS+FLU</text>
<text transform="translate(404.47,711.1) scale(1.18,1) rotate(-45)" font-size="10.6" text-anchor="end" font-weight="bold">CUS+EE</text>
<text transform="translate(433.62,711.1) scale(1.18,1) rotate(-45)" font-size="10.6" text-anchor="end" font-weight="bold">CUS+FLU+EE</text>
<text transform="translate(263.3,718.4) scale(1.1,1) rotate(-90)" font-size="10.7" text-anchor="start" font-weight="bold">movement distance in OFT (m)</text>
</g>
<g>
<text transform="translate(463.8,570.6)" font-size="23.2" text-anchor="start" font-weight="normal">I</text>
<g stroke="#000" stroke-width="1.8">
<rect x="521.73" y="643.95" width="22.87" height="56.65" fill="#8e8e8e"/>
<rect x="552" y="620.62" width="22.87" height="79.98" fill="#b2b2b2"/>
<rect x="582.03" y="616.9" width="23.12" height="83.7" fill="#909090"/>
<rect x="612.3" y="617.89" width="23.12" height="82.71" fill="#dcdcdc"/>
<rect x="642.82" y="619.88" width="22.87" height="80.72" fill="#6e6e6e"/>
</g>
<line x1="515.7" y1="598" x2="515.7" y2="701.2" stroke="#000" stroke-width="1.2"/>
<line x1="515.1" y1="700.6" x2="673" y2="700.6" stroke="#000" stroke-width="1.2"/>
<line x1="510.3" y1="700.6" x2="515.7" y2="700.6" stroke="#000" stroke-width="1.2"/>
<text transform="translate(508.4,703.3) scale(1.3,1)" font-size="7.7" text-anchor="end" font-weight="bold">0</text>
<line x1="510.3" y1="675.1" x2="515.7" y2="675.1" stroke="#000" stroke-width="1.2"/>
<text transform="translate(508.4,677.8) scale(1.3,1)" font-size="7.7" text-anchor="end" font-weight="bold">20</text>
<line x1="510.3" y1="649.6" x2="515.7" y2="649.6" stroke="#000" stroke-width="1.2"/>
<text transform="translate(508.4,652.3) scale(1.3,1)" font-size="7.7" text-anchor="end" font-weight="bold">40</text>
<line x1="510.3" y1="624.1" x2="515.7" y2="624.1" stroke="#000" stroke-width="1.2"/>
<text transform="translate(508.4,626.8) scale(1.3,1)" font-size="7.7" text-anchor="end" font-weight="bold">60</text>
<line x1="510.3" y1="598.6" x2="515.7" y2="598.6" stroke="#000" stroke-width="1.2"/>
<text transform="translate(508.4,601.3) scale(1.3,1)" font-size="7.7" text-anchor="end" font-weight="bold">80</text>
<line x1="533.16" y1="700.6" x2="533.16" y2="705.2" stroke="#000" stroke-width="1.2"/>
<line x1="563.44" y1="700.6" x2="563.44" y2="705.2" stroke="#000" stroke-width="1.2"/>
<line x1="593.59" y1="700.6" x2="593.59" y2="705.2" stroke="#000" stroke-width="1.2"/>
<line x1="623.86" y1="700.6" x2="623.86" y2="705.2" stroke="#000" stroke-width="1.2"/>
<line x1="654.26" y1="700.6" x2="654.26" y2="705.2" stroke="#000" stroke-width="1.2"/>
<line x1="533.16" y1="634.37" x2="533.16" y2="651.74" stroke="#000" stroke-width="1.15"/>
<line x1="527.41" y1="634.37" x2="538.91" y2="634.37" stroke="#000" stroke-width="1.15"/>
<line x1="527.41" y1="651.74" x2="538.91" y2="651.74" stroke="#000" stroke-width="1.15"/>
<line x1="563.44" y1="615.01" x2="563.44" y2="624.44" stroke="#000" stroke-width="1.15"/>
<line x1="557.69" y1="615.01" x2="569.19" y2="615.01" stroke="#000" stroke-width="1.15"/>
<line x1="557.69" y1="624.44" x2="569.19" y2="624.44" stroke="#000" stroke-width="1.15"/>
<line x1="593.59" y1="608.31" x2="593.59" y2="623.95" stroke="#000" stroke-width="1.15"/>
<line x1="587.84" y1="608.31" x2="599.34" y2="608.31" stroke="#000" stroke-width="1.15"/>
<line x1="587.84" y1="623.95" x2="599.34" y2="623.95" stroke="#000" stroke-width="1.15"/>
<line x1="623.86" y1="610.79" x2="623.86" y2="623.7" stroke="#000" stroke-width="1.15"/>
<line x1="618.11" y1="610.79" x2="629.61" y2="610.79" stroke="#000" stroke-width="1.15"/>
<line x1="618.11" y1="623.7" x2="629.61" y2="623.7" stroke="#000" stroke-width="1.15"/>
<line x1="654.26" y1="612.03" x2="654.26" y2="625.68" stroke="#000" stroke-width="1.15"/>
<line x1="648.51" y1="612.03" x2="660.01" y2="612.03" stroke="#000" stroke-width="1.15"/>
<line x1="648.51" y1="625.68" x2="660.01" y2="625.68" stroke="#000" stroke-width="1.15"/>
<g fill="#000">
<ellipse cx="529.74" cy="627.59" rx="2.4" ry="2"/>
<ellipse cx="536.45" cy="630.48" rx="2.4" ry="2"/>
<ellipse cx="543.01" cy="634.16" rx="2.4" ry="2"/>
<ellipse cx="529.74" cy="638.1" rx="2.4" ry="2"/>
<ellipse cx="536.45" cy="638.1" rx="2.4" ry="2"/>
<ellipse cx="543.01" cy="643.36" rx="2.4" ry="2"/>
<ellipse cx="536.45" cy="646.64" rx="2.4" ry="2"/>
<ellipse cx="522.91" cy="647.96" rx="2.4" ry="2"/>
<ellipse cx="529.74" cy="649.93" rx="2.4" ry="2"/>
<ellipse cx="543.01" cy="650.58" rx="2.4" ry="2"/>
<ellipse cx="536.45" cy="652.29" rx="2.4" ry="2"/>
<ellipse cx="522.91" cy="653.21" rx="2.4" ry="2"/>
<rect x="555.99" y="610.48" width="4.8" height="4"/>
<rect x="550.73" y="611.8" width="4.8" height="4"/>
<rect x="571.1" y="612.72" width="4.8" height="4"/>
<rect x="565.84" y="614.03" width="4.8" height="4"/>
<rect x="560.85" y="615.08" width="4.8" height="4"/>
<rect x="555.99" y="615.74" width="4.8" height="4"/>
<rect x="550.73" y="617.71" width="4.8" height="4"/>
<rect x="555.99" y="619.68" width="4.8" height="4"/>
<rect x="560.85" y="620.99" width="4.8" height="4"/>
<rect x="571.1" y="619.02" width="4.8" height="4"/>
<rect x="555.99" y="625.59" width="4.8" height="4"/>
<rect x="565.84" y="624.93" width="4.8" height="4"/>
<path d="M593.6 603.81L596.24 607.7L590.96 607.7Z"/>
<path d="M583.74 606.83L586.38 610.72L581.1 610.72Z"/>
<path d="M588.61 607.75L591.25 611.64L585.97 611.64Z"/>
<path d="M603.72 607.75L606.36 611.64L601.08 611.64Z"/>
<path d="M598.72 610.38L601.36 614.27L596.08 614.27Z"/>
<path d="M583.74 611.7L586.38 615.58L581.1 615.58Z"/>
<path d="M588.61 612.35L591.25 616.24L585.97 616.24Z"/>
<path d="M593.6 612.62L596.24 616.5L590.96 616.5Z"/>
<path d="M598.72 615.64L601.36 619.52L596.08 619.52Z"/>
<path d="M593.6 623.52L596.24 627.41L590.96 627.41Z"/>
<path d="M598.72 625.49L601.36 629.38L596.08 629.38Z"/>
<path d="M588.61 628.78L591.25 632.66L585.97 632.66Z"/>
<path d="M625.99 608.67L628.63 604.78L623.35 604.78Z"/>
<path d="M613.9 612.87L616.54 608.99L611.26 608.99Z"/>
<path d="M622.04 612.87L624.68 608.99L619.4 608.99Z"/>
<path d="M634.13 614.19L636.77 610.3L631.49 610.3Z"/>
<path d="M617.84 616.29L620.48 612.4L615.2 612.4Z"/>
<path d="M629.93 615.24L632.57 611.35L627.29 611.35Z"/>
<path d="M624.01 617.6L626.65 613.72L621.37 613.72Z"/>
<path d="M625.99 620.49L628.63 616.61L623.35 616.61Z"/>
<path d="M624.01 626.41L626.65 622.52L621.37 622.52Z"/>
<path d="M627.96 628.38L630.6 624.49L625.32 624.49Z"/>
<path d="M620.07 629.69L622.71 625.81L617.43 625.81Z"/>
<path d="M624.01 615.24L626.65 611.35L621.37 611.35Z"/>
<path d="M651.61 606.24L654.25 608.54L651.61 610.84L648.97 608.54Z"/>
<path d="M656.86 606.24L659.5 608.54L656.86 610.84L654.22 608.54Z"/>
<path d="M644.38 611.5L647.02 613.8L644.38 616.1L641.74 613.8Z"/>
<path d="M654.23 612.81L656.87 615.11L654.23 617.41L651.59 615.11Z"/>
<path d="M648.98 614.12L651.62 616.42L648.98 618.72L646.34 616.42Z"/>
<path d="M664.09 614.12L666.73 616.42L664.09 618.72L661.45 616.42Z"/>
<path d="M659.23 615.44L661.87 617.74L659.23 620.04L656.59 617.74Z"/>
<path d="M652 622.93L654.64 625.23L652 627.53L649.36 625.23Z"/>
<path d="M656.86 624.63L659.5 626.93L656.86 629.23L654.22 626.93Z"/>
<path d="M661.46 624.63L664.1 626.93L661.46 629.23L658.82 626.93Z"/>
<path d="M646.74 625.55L649.38 627.85L646.74 630.15L644.1 627.85Z"/>
<path d="M654.23 618.72L656.87 621.02L654.23 623.32L651.59 621.02Z"/>
</g>
<line x1="533.04" y1="609.5" x2="563.31" y2="609.5" stroke="#000" stroke-width="1"/>
<text transform="translate(548.56,608.87) scale(1.26,1)" font-size="12.8" text-anchor="middle" font-weight="normal" letter-spacing="1.35" stroke="#000" stroke-width="0.35">****</text>
<line x1="533.04" y1="595.5" x2="593.83" y2="595.5" stroke="#000" stroke-width="1.25"/>
<text transform="translate(563.45,594.48) scale(1.26,1)" font-size="12.8" text-anchor="middle" font-weight="normal" letter-spacing="1.35" stroke="#000" stroke-width="0.35">****</text>
<line x1="533.04" y1="580.5" x2="624.11" y2="580.5" stroke="#000" stroke-width="1.25"/>
<text transform="translate(578.33,579.84) scale(1.26,1)" font-size="12.8" text-anchor="middle" font-weight="normal" letter-spacing="1.35" stroke="#000" stroke-width="0.35">****</text>
<line x1="533.04" y1="565.5" x2="654.38" y2="565.5" stroke="#000" stroke-width="1.25"/>
<text transform="translate(593.47,565.2) scale(1.26,1)" font-size="12.8" text-anchor="middle" font-weight="normal" letter-spacing="1.35" stroke="#000" stroke-width="0.35">****</text>
<text transform="translate(536.66,714.6) scale(1.3,1) rotate(-45)" font-size="9.69" text-anchor="end" font-weight="bold">control</text>
<text transform="translate(566.94,714.6) scale(1.3,1) rotate(-45)" font-size="9.69" text-anchor="end" font-weight="bold">CUS</text>
<text transform="translate(597.09,714.6) scale(1.3,1) rotate(-45)" font-size="9.69" text-anchor="end" font-weight="bold">CUS+FLU</text>
<text transform="translate(627.36,714.6) scale(1.3,1) rotate(-45)" font-size="9.69" text-anchor="end" font-weight="bold">CUS+EE</text>
<text transform="translate(657.76,714.6) scale(1.3,1) rotate(-45)" font-size="9.69" text-anchor="end" font-weight="bold">CUS+FLU+EE</text>
<text transform="translate(489.6,710) scale(1.16,1) rotate(-90)" font-size="9.98" text-anchor="start" font-weight="bold">Immobility Time in FST(s)</text>
</g>
<g>
<text transform="translate(9,812.6)" font-size="23.2" text-anchor="start" font-weight="normal">J</text>
<g stroke="#000" stroke-width="1.8">
<rect x="75.41" y="859.38" width="21.88" height="75.42" fill="#8e8e8e"/>
<rect x="104.45" y="873.53" width="21.88" height="61.27" fill="#b2b2b2"/>
<rect x="133.23" y="873.03" width="22.13" height="61.77" fill="#909090"/>
<rect x="162.26" y="871.79" width="22.37" height="63.01" fill="#dcdcdc"/>
<rect x="191.54" y="866.08" width="22.13" height="68.72" fill="#6e6e6e"/>
</g>
<line x1="69.4" y1="836.4" x2="69.4" y2="935.5" stroke="#000" stroke-width="1.4"/>
<line x1="68.7" y1="934.8" x2="218" y2="934.8" stroke="#000" stroke-width="1.4"/>
<line x1="63.7" y1="934.8" x2="69.4" y2="934.8" stroke="#000" stroke-width="1.4"/>
<text transform="translate(61.8,938.12) scale(1.3,1)" font-size="9.5" text-anchor="end" font-weight="bold">0</text>
<line x1="63.7" y1="915.26" x2="69.4" y2="915.26" stroke="#000" stroke-width="1.4"/>
<text transform="translate(61.8,918.59) scale(1.3,1)" font-size="9.5" text-anchor="end" font-weight="bold">20</text>
<line x1="63.7" y1="895.72" x2="69.4" y2="895.72" stroke="#000" stroke-width="1.4"/>
<text transform="translate(61.8,899.05) scale(1.3,1)" font-size="9.5" text-anchor="end" font-weight="bold">40</text>
<line x1="63.7" y1="876.18" x2="69.4" y2="876.18" stroke="#000" stroke-width="1.4"/>
<text transform="translate(61.8,879.5) scale(1.3,1)" font-size="9.5" text-anchor="end" font-weight="bold">60</text>
<line x1="63.7" y1="856.64" x2="69.4" y2="856.64" stroke="#000" stroke-width="1.4"/>
<text transform="translate(61.8,859.97) scale(1.3,1)" font-size="9.5" text-anchor="end" font-weight="bold">80</text>
<line x1="63.7" y1="837.1" x2="69.4" y2="837.1" stroke="#000" stroke-width="1.4"/>
<text transform="translate(61.8,840.43) scale(1.3,1)" font-size="9.5" text-anchor="end" font-weight="bold">100</text>
<line x1="86.35" y1="934.8" x2="86.35" y2="939.4" stroke="#000" stroke-width="1.4"/>
<line x1="115.38" y1="934.8" x2="115.38" y2="939.4" stroke="#000" stroke-width="1.4"/>
<line x1="144.29" y1="934.8" x2="144.29" y2="939.4" stroke="#000" stroke-width="1.4"/>
<line x1="173.45" y1="934.8" x2="173.45" y2="939.4" stroke="#000" stroke-width="1.4"/>
<line x1="202.61" y1="934.8" x2="202.61" y2="939.4" stroke="#000" stroke-width="1.4"/>
<line x1="86.35" y1="854.52" x2="86.35" y2="863.7" stroke="#000" stroke-width="1.15"/>
<line x1="80.6" y1="854.52" x2="92.1" y2="854.52" stroke="#000" stroke-width="1.15"/>
<line x1="80.6" y1="863.7" x2="92.1" y2="863.7" stroke="#000" stroke-width="1.15"/>
<line x1="115.38" y1="869.4" x2="115.38" y2="878.59" stroke="#000" stroke-width="1.15"/>
<line x1="109.63" y1="869.4" x2="121.13" y2="869.4" stroke="#000" stroke-width="1.15"/>
<line x1="109.63" y1="878.59" x2="121.13" y2="878.59" stroke="#000" stroke-width="1.15"/>
<line x1="144.29" y1="866.92" x2="144.29" y2="878.59" stroke="#000" stroke-width="1.15"/>
<line x1="138.54" y1="866.92" x2="150.04" y2="866.92" stroke="#000" stroke-width="1.15"/>
<line x1="138.54" y1="878.59" x2="150.04" y2="878.59" stroke="#000" stroke-width="1.15"/>
<line x1="173.45" y1="865.68" x2="173.45" y2="876.85" stroke="#000" stroke-width="1.15"/>
<line x1="167.7" y1="865.68" x2="179.2" y2="865.68" stroke="#000" stroke-width="1.15"/>
<line x1="167.7" y1="876.85" x2="179.2" y2="876.85" stroke="#000" stroke-width="1.15"/>
<line x1="202.61" y1="860.22" x2="202.61" y2="870.65" stroke="#000" stroke-width="1.15"/>
<line x1="196.86" y1="860.22" x2="208.36" y2="860.22" stroke="#000" stroke-width="1.15"/>
<line x1="196.86" y1="870.65" x2="208.36" y2="870.65" stroke="#000" stroke-width="1.15"/>
<g fill="#000">
<ellipse cx="79.85" cy="852.88" rx="2.6" ry="2"/>
<ellipse cx="75.91" cy="854.46" rx="2.6" ry="2"/>
<ellipse cx="95.62" cy="853.54" rx="2.6" ry="2"/>
<ellipse cx="91.02" cy="854.46" rx="2.6" ry="2"/>
<ellipse cx="86.42" cy="855.51" rx="2.6" ry="2"/>
<ellipse cx="83.14" cy="856.56" rx="2.6" ry="2"/>
<ellipse cx="91.02" cy="858.8" rx="2.6" ry="2"/>
<ellipse cx="79.85" cy="861.42" rx="2.6" ry="2"/>
<ellipse cx="84.45" cy="862.08" rx="2.6" ry="2"/>
<ellipse cx="89.71" cy="862.74" rx="2.6" ry="2"/>
<ellipse cx="92.34" cy="864.05" rx="2.6" ry="2"/>
<ellipse cx="86.03" cy="868.39" rx="2.6" ry="2"/>
<rect x="115.75" y="861.39" width="5.2" height="4"/>
<rect x="109.18" y="862.97" width="5.2" height="4"/>
<rect x="109.18" y="867.96" width="5.2" height="4"/>
<rect x="121.53" y="870.59" width="5.2" height="4"/>
<rect x="102.61" y="872.17" width="5.2" height="4"/>
<rect x="109.18" y="872.56" width="5.2" height="4"/>
<rect x="102.61" y="876.11" width="5.2" height="4"/>
<rect x="115.75" y="875.85" width="5.2" height="4"/>
<rect x="121.53" y="875.19" width="5.2" height="4"/>
<rect x="109.18" y="878.74" width="5.2" height="4"/>
<rect x="115.75" y="881.1" width="5.2" height="4"/>
<rect x="109.18" y="884.78" width="5.2" height="4"/>
<path d="M134.38 859.98L137.24 863.87L131.52 863.87Z"/>
<path d="M140.95 863.66L143.81 867.54L138.09 867.54Z"/>
<path d="M147.52 863.26L150.38 867.15L144.66 867.15Z"/>
<path d="M134.38 866.29L137.24 870.17L131.52 870.17Z"/>
<path d="M140.95 869.18L143.81 873.06L138.09 873.06Z"/>
<path d="M147.52 869.18L150.38 873.06L144.66 873.06Z"/>
<path d="M153.82 869.83L156.68 873.72L150.96 873.72Z"/>
<path d="M134.38 870.75L137.24 874.64L131.52 874.64Z"/>
<path d="M140.95 875.75L143.81 879.63L138.09 879.63Z"/>
<path d="M147.52 875.75L150.38 879.63L144.66 879.63Z"/>
<path d="M147.52 879.95L150.38 883.84L144.66 883.84Z"/>
<path d="M140.95 881L143.81 884.89L138.09 884.89Z"/>
<path d="M163.9 864.18L166.76 860.3L161.04 860.3Z"/>
<path d="M182.55 866.81L185.41 862.92L179.69 862.92Z"/>
<path d="M170.07 868.12L172.93 864.24L167.21 864.24Z"/>
<path d="M176.25 867.46L179.11 863.58L173.39 863.58Z"/>
<path d="M163.9 869.7L166.76 865.81L161.04 865.81Z"/>
<path d="M170.07 872.72L172.93 868.84L167.21 868.84Z"/>
<path d="M163.9 875.35L166.76 871.46L161.04 871.46Z"/>
<path d="M176.25 875.35L179.11 871.46L173.39 871.46Z"/>
<path d="M182.55 875.35L185.41 871.46L179.69 871.46Z"/>
<path d="M170.07 877.32L172.93 873.43L167.21 873.43Z"/>
<path d="M176.25 879.95L179.11 876.06L173.39 876.06Z"/>
<path d="M163.9 878.63L166.76 874.75L161.04 874.75Z"/>
<path d="M197.27 852.95L200.13 855.25L197.27 857.55L194.41 855.25Z"/>
<path d="M202.26 855.84L205.12 858.14L202.26 860.44L199.4 858.14Z"/>
<path d="M192.41 860.44L195.27 862.74L192.41 865.04L189.55 862.74Z"/>
<path d="M212.12 860.83L214.98 863.13L212.12 865.43L209.26 863.13Z"/>
<path d="M197.27 862.41L200.13 864.71L197.27 867.01L194.41 864.71Z"/>
<path d="M206.86 862.41L209.72 864.71L206.86 867.01L204 864.71Z"/>
<path d="M202.26 863.72L205.12 866.02L202.26 868.32L199.4 866.02Z"/>
<path d="M197.27 866.09L200.13 868.39L197.27 870.69L194.41 868.39Z"/>
<path d="M192.41 868.32L195.27 870.62L192.41 872.92L189.55 870.62Z"/>
<path d="M202.26 867.66L205.12 869.96L202.26 872.26L199.4 869.96Z"/>
<path d="M206.86 867.66L209.72 869.96L206.86 872.26L204 869.96Z"/>
<path d="M212.12 868.32L214.98 870.62L212.12 872.92L209.26 870.62Z"/>
</g>
<line x1="85.98" y1="850.5" x2="115.01" y2="850.5" stroke="#000" stroke-width="1.25"/>
<text transform="translate(100.75,849.86) scale(1.17,1)" font-size="12.8" text-anchor="middle" font-weight="normal" letter-spacing="1.35" stroke="#000" stroke-width="0.35">****</text>
<line x1="144.29" y1="851.5" x2="201.86" y2="851.5" stroke="#000" stroke-width="1.25"/>
<text transform="translate(173.71,850.61) scale(1.17,1)" font-size="12.8" text-anchor="middle" font-weight="normal" letter-spacing="1.35" stroke="#000" stroke-width="0.35">*</text>
<line x1="115.01" y1="836.5" x2="201.86" y2="836.5" stroke="#000" stroke-width="1"/>
<text transform="translate(159.31,835.72) scale(1.17,1)" font-size="12.8" text-anchor="middle" font-weight="normal" letter-spacing="1.35" stroke="#000" stroke-width="0.35">***</text>
<line x1="85.98" y1="823.5" x2="144.29" y2="823.5" stroke="#000" stroke-width="1.25"/>
<text transform="translate(115.39,822.57) scale(1.17,1)" font-size="12.8" text-anchor="middle" font-weight="normal" letter-spacing="1.35" stroke="#000" stroke-width="0.35">****</text>
<line x1="85.98" y1="808.5" x2="173.33" y2="808.5" stroke="#000" stroke-width="1.25"/>
<text transform="translate(129.79,808.42) scale(1.17,1)" font-size="12.8" text-anchor="middle" font-weight="normal" letter-spacing="1.35" stroke="#000" stroke-width="0.35">****</text>
<text transform="translate(89.85,948.8) scale(1.3,1) rotate(-45)" font-size="9.3" text-anchor="end" font-weight="bold">control</text>
<text transform="translate(118.88,948.8) scale(1.3,1) rotate(-45)" font-size="9.3" text-anchor="end" font-weight="bold">CUS</text>
<text transform="translate(147.79,948.8) scale(1.3,1) rotate(-45)" font-size="9.3" text-anchor="end" font-weight="bold">CUS+FLU</text>
<text transform="translate(176.95,948.8) scale(1.3,1) rotate(-45)" font-size="9.3" text-anchor="end" font-weight="bold">CUS+EE</text>
<text transform="translate(206.11,948.8) scale(1.3,1) rotate(-45)" font-size="9.3" text-anchor="end" font-weight="bold">CUS+FLU+EE</text>
<text transform="translate(35.2,948.6) scale(1.2,1) rotate(-90)" font-size="9.55" text-anchor="start" font-weight="bold">Sucrose Preference Test<tspan font-weight="normal" font-size="10.3" stroke="none">(%)</tspan></text>
</g>
<g>
<text transform="translate(235.4,811.5)" font-size="23.2" text-anchor="start" font-weight="normal">K</text>
<g stroke="#000" stroke-width="1.8">
<rect x="307.9" y="883.45" width="16.91" height="53.65" fill="#8e8e8e"/>
<rect x="336.18" y="900.08" width="16.91" height="37.02" fill="#b2b2b2"/>
<rect x="364.47" y="894.62" width="16.67" height="42.48" fill="#909090"/>
<rect x="392.76" y="894.62" width="16.91" height="42.48" fill="#dcdcdc"/>
<rect x="421.29" y="887.17" width="16.91" height="49.93" fill="#6e6e6e"/>
</g>
<line x1="296.9" y1="823.3" x2="296.9" y2="937.8" stroke="#000" stroke-width="1.4"/>
<line x1="296.2" y1="937.1" x2="448.5" y2="937.1" stroke="#000" stroke-width="1.4"/>
<line x1="291.2" y1="937.1" x2="296.9" y2="937.1" stroke="#000" stroke-width="1.4"/>
<text transform="translate(289.3,940.77) scale(1.22,1)" font-size="10.5" text-anchor="end" font-weight="bold">0</text>
<line x1="291.2" y1="908.83" x2="296.9" y2="908.83" stroke="#000" stroke-width="1.4"/>
<text transform="translate(289.3,912.5) scale(1.22,1)" font-size="10.5" text-anchor="end" font-weight="bold">50</text>
<line x1="291.2" y1="880.55" x2="296.9" y2="880.55" stroke="#000" stroke-width="1.4"/>
<text transform="translate(289.3,884.22) scale(1.22,1)" font-size="10.5" text-anchor="end" font-weight="bold">100</text>
<line x1="291.2" y1="852.27" x2="296.9" y2="852.27" stroke="#000" stroke-width="1.4"/>
<text transform="translate(289.3,855.95) scale(1.22,1)" font-size="10.5" text-anchor="end" font-weight="bold">150</text>
<line x1="291.2" y1="824" x2="296.9" y2="824" stroke="#000" stroke-width="1.4"/>
<text transform="translate(289.3,827.67) scale(1.22,1)" font-size="10.5" text-anchor="end" font-weight="bold">200</text>
<line x1="316.35" y1="937.1" x2="316.35" y2="941.7" stroke="#000" stroke-width="1.4"/>
<line x1="344.64" y1="937.1" x2="344.64" y2="941.7" stroke="#000" stroke-width="1.4"/>
<line x1="372.8" y1="937.1" x2="372.8" y2="941.7" stroke="#000" stroke-width="1.4"/>
<line x1="401.22" y1="937.1" x2="401.22" y2="941.7" stroke="#000" stroke-width="1.4"/>
<line x1="429.75" y1="937.1" x2="429.75" y2="941.7" stroke="#000" stroke-width="1.4"/>
<line x1="316.35" y1="868.66" x2="316.35" y2="895.46" stroke="#000" stroke-width="1.15"/>
<line x1="310.6" y1="868.66" x2="322.1" y2="868.66" stroke="#000" stroke-width="1.15"/>
<line x1="310.6" y1="895.46" x2="322.1" y2="895.46" stroke="#000" stroke-width="1.15"/>
<line x1="344.64" y1="893.72" x2="344.64" y2="904.89" stroke="#000" stroke-width="1.15"/>
<line x1="338.89" y1="893.72" x2="350.39" y2="893.72" stroke="#000" stroke-width="1.15"/>
<line x1="338.89" y1="904.89" x2="350.39" y2="904.89" stroke="#000" stroke-width="1.15"/>
<line x1="372.8" y1="888.01" x2="372.8" y2="900.42" stroke="#000" stroke-width="1.15"/>
<line x1="367.05" y1="888.01" x2="378.55" y2="888.01" stroke="#000" stroke-width="1.15"/>
<line x1="367.05" y1="900.42" x2="378.55" y2="900.42" stroke="#000" stroke-width="1.15"/>
<line x1="401.22" y1="889.26" x2="401.22" y2="900.42" stroke="#000" stroke-width="1.15"/>
<line x1="395.47" y1="889.26" x2="406.97" y2="889.26" stroke="#000" stroke-width="1.15"/>
<line x1="395.47" y1="900.42" x2="406.97" y2="900.42" stroke="#000" stroke-width="1.15"/>
<line x1="429.75" y1="878.09" x2="429.75" y2="895.46" stroke="#000" stroke-width="1.15"/>
<line x1="424" y1="878.09" x2="435.5" y2="878.09" stroke="#000" stroke-width="1.15"/>
<line x1="424" y1="895.46" x2="435.5" y2="895.46" stroke="#000" stroke-width="1.15"/>
<g fill="#000">
<ellipse cx="308.93" cy="856.18" rx="2.44" ry="2"/>
<ellipse cx="316.03" cy="860.25" rx="2.44" ry="2"/>
<ellipse cx="316.03" cy="871.68" rx="2.44" ry="2"/>
<ellipse cx="322.99" cy="878.64" rx="2.44" ry="2"/>
<ellipse cx="308.93" cy="880.88" rx="2.44" ry="2"/>
<ellipse cx="316.03" cy="881.8" rx="2.44" ry="2"/>
<ellipse cx="316.03" cy="887.05" rx="2.44" ry="2"/>
<ellipse cx="308.93" cy="888.76" rx="2.44" ry="2"/>
<ellipse cx="322.99" cy="889.42" rx="2.44" ry="2"/>
<ellipse cx="316.03" cy="892.04" rx="2.44" ry="2"/>
<ellipse cx="319.45" cy="897.56" rx="2.44" ry="2"/>
<ellipse cx="312.48" cy="899.66" rx="2.44" ry="2"/>
<rect x="341.97" y="887.68" width="4.88" height="4"/>
<rect x="336.98" y="889.78" width="4.88" height="4"/>
<rect x="349.06" y="890.04" width="4.88" height="4"/>
<rect x="335.01" y="892.67" width="4.88" height="4"/>
<rect x="341.97" y="893.33" width="4.88" height="4"/>
<rect x="345.52" y="894.25" width="4.88" height="4"/>
<rect x="339.34" y="897.66" width="4.88" height="4"/>
<rect x="341.97" y="900.55" width="4.88" height="4"/>
<rect x="345.52" y="901.61" width="4.88" height="4"/>
<rect x="341.97" y="904.76" width="4.88" height="4"/>
<rect x="345.52" y="906.47" width="4.88" height="4"/>
<rect x="338.55" y="908.18" width="4.88" height="4"/>
<path d="M375.15 882.32L377.84 886.21L372.47 886.21Z"/>
<path d="M370.69 883.64L373.37 887.52L368 887.52Z"/>
<path d="M365.69 884.95L368.38 888.84L363.01 888.84Z"/>
<path d="M379.88 886.26L382.57 890.15L377.2 890.15Z"/>
<path d="M370.95 890.6L373.63 894.49L368.26 894.49Z"/>
<path d="M375.15 890.99L377.84 894.88L372.47 894.88Z"/>
<path d="M379.88 891.91L382.57 895.8L377.2 895.8Z"/>
<path d="M368.06 896.78L370.74 900.66L365.37 900.66Z"/>
<path d="M372.92 896.78L375.6 900.66L370.24 900.66Z"/>
<path d="M377.78 896.78L380.47 900.66L375.1 900.66Z"/>
<path d="M379.88 895.2L382.57 899.08L377.2 899.08Z"/>
<path d="M372.92 905.05L375.6 908.94L370.24 908.94Z"/>
<path d="M398.99 886.92L401.68 883.03L396.31 883.03Z"/>
<path d="M408.58 888.63L411.27 884.74L405.9 884.74Z"/>
<path d="M403.72 890.86L406.41 886.97L401.04 886.97Z"/>
<path d="M394.13 891.52L396.82 887.63L391.45 887.63Z"/>
<path d="M398.99 893.09L401.68 889.21L396.31 889.21Z"/>
<path d="M394.13 897.43L396.82 893.54L391.45 893.54Z"/>
<path d="M408.58 897.43L411.27 893.54L405.9 893.54Z"/>
<path d="M401.36 899.4L404.04 895.51L398.67 895.51Z"/>
<path d="M408.58 900.98L411.27 897.09L405.9 897.09Z"/>
<path d="M403.72 904L406.41 900.11L401.04 900.11Z"/>
<path d="M394.13 902.68L396.82 898.8L391.45 898.8Z"/>
<path d="M394.13 907.02L396.82 903.13L391.45 903.13Z"/>
<path d="M426.32 871.09L429.01 873.39L426.32 875.69L423.64 873.39Z"/>
<path d="M433.15 875.03L435.84 877.33L433.15 879.63L430.47 877.33Z"/>
<path d="M422.38 879.23L425.06 881.53L422.38 883.83L419.7 881.53Z"/>
<path d="M426.98 880.55L429.66 882.85L426.98 885.15L424.29 882.85Z"/>
<path d="M432.23 882.12L434.92 884.42L432.23 886.72L429.55 884.42Z"/>
<path d="M436.83 882.91L439.52 885.21L436.83 887.51L434.15 885.21Z"/>
<path d="M422.38 884.49L425.06 886.79L422.38 889.09L419.7 886.79Z"/>
<path d="M429.61 885.8L432.29 888.1L429.61 890.4L426.92 888.1Z"/>
<path d="M429.61 892.37L432.29 894.67L429.61 896.97L426.92 894.67Z"/>
<path d="M431.58 897.63L434.26 899.93L431.58 902.23L428.89 899.93Z"/>
<path d="M428.29 900.25L430.98 902.55L428.29 904.85L425.61 902.55Z"/>
<path d="M436.83 885.15L439.52 887.45L436.83 889.75L434.15 887.45Z"/>
</g>
<line x1="316.48" y1="852.5" x2="344.52" y2="852.5" stroke="#000" stroke-width="1.25"/>
<text transform="translate(330.45,851.1) scale(1.22,1)" font-size="12.8" text-anchor="middle" font-weight="normal" letter-spacing="1.35" stroke="#000" stroke-width="0.35">***</text>
<line x1="316.48" y1="836.5" x2="373.05" y2="836.5" stroke="#000" stroke-width="1.25"/>
<text transform="translate(345.09,835.22) scale(1.22,1)" font-size="12.8" text-anchor="middle" font-weight="normal" letter-spacing="1.35" stroke="#000" stroke-width="0.35">*</text>
<line x1="316.48" y1="820.5" x2="401.59" y2="820.5" stroke="#000" stroke-width="1"/>
<text transform="translate(359.24,818.84) scale(1.22,1)" font-size="12.8" text-anchor="middle" font-weight="normal" letter-spacing="1.35" stroke="#000" stroke-width="0.35">**</text>
<line x1="344.52" y1="868.5" x2="429.63" y2="868.5" stroke="#000" stroke-width="1"/>
<text transform="translate(387.52,867.73) scale(1.22,1)" font-size="12.8" text-anchor="middle" font-weight="normal" letter-spacing="1.35" stroke="#000" stroke-width="0.35">**</text>
<text transform="translate(319.85,951.1) scale(1.22,1) rotate(-45)" font-size="10.4" text-anchor="end" font-weight="bold">control</text>
<text transform="translate(348.14,951.1) scale(1.22,1) rotate(-45)" font-size="10.4" text-anchor="end" font-weight="bold">CUS</text>
<text transform="translate(376.3,951.1) scale(1.22,1) rotate(-45)" font-size="10.4" text-anchor="end" font-weight="bold">CUS+FLU</text>
<text transform="translate(404.72,951.1) scale(1.22,1) rotate(-45)" font-size="10.4" text-anchor="end" font-weight="bold">CUS+EE</text>
<text transform="translate(433.25,951.1) scale(1.22,1) rotate(-45)" font-size="10.4" text-anchor="end" font-weight="bold">CUS+FLU+EE</text>
<text transform="translate(262.6,959.3) scale(1.08,1) rotate(-90)" font-size="10.95" text-anchor="start" font-weight="bold">movement distance in OFT (m)</text>
</g>
<g>
<text transform="translate(463.6,815.7)" font-size="23.2" text-anchor="start" font-weight="normal">L</text>
<g stroke="#000" stroke-width="1.8">
<rect x="523.47" y="890.9" width="22.62" height="55.5" fill="#8e8e8e"/>
<rect x="553.49" y="869.8" width="22.87" height="76.6" fill="#b2b2b2"/>
<rect x="583.52" y="877.25" width="22.62" height="69.15" fill="#909090"/>
<rect x="613.54" y="877.25" width="22.87" height="69.15" fill="#dcdcdc"/>
<rect x="643.57" y="887.17" width="22.87" height="59.23" fill="#6e6e6e"/>
</g>
<line x1="517.4" y1="845.9" x2="517.4" y2="947.1" stroke="#000" stroke-width="1.4"/>
<line x1="516.7" y1="946.4" x2="672" y2="946.4" stroke="#000" stroke-width="1.4"/>
<line x1="511.7" y1="946.4" x2="517.4" y2="946.4" stroke="#000" stroke-width="1.4"/>
<text transform="translate(509.8,949.73) scale(1.32,1)" font-size="9.5" text-anchor="end" font-weight="bold">0</text>
<line x1="511.7" y1="921.45" x2="517.4" y2="921.45" stroke="#000" stroke-width="1.4"/>
<text transform="translate(509.8,924.78) scale(1.32,1)" font-size="9.5" text-anchor="end" font-weight="bold">20</text>
<line x1="511.7" y1="896.5" x2="517.4" y2="896.5" stroke="#000" stroke-width="1.4"/>
<text transform="translate(509.8,899.83) scale(1.32,1)" font-size="9.5" text-anchor="end" font-weight="bold">40</text>
<line x1="511.7" y1="871.55" x2="517.4" y2="871.55" stroke="#000" stroke-width="1.4"/>
<text transform="translate(509.8,874.88) scale(1.32,1)" font-size="9.5" text-anchor="end" font-weight="bold">60</text>
<line x1="511.7" y1="846.6" x2="517.4" y2="846.6" stroke="#000" stroke-width="1.4"/>
<text transform="translate(509.8,849.93) scale(1.32,1)" font-size="9.5" text-anchor="end" font-weight="bold">80</text>
<line x1="534.78" y1="946.4" x2="534.78" y2="951" stroke="#000" stroke-width="1.4"/>
<line x1="564.93" y1="946.4" x2="564.93" y2="951" stroke="#000" stroke-width="1.4"/>
<line x1="594.83" y1="946.4" x2="594.83" y2="951" stroke="#000" stroke-width="1.4"/>
<line x1="624.98" y1="946.4" x2="624.98" y2="951" stroke="#000" stroke-width="1.4"/>
<line x1="655" y1="946.4" x2="655" y2="951" stroke="#000" stroke-width="1.4"/>
<line x1="534.78" y1="880.57" x2="534.78" y2="899.18" stroke="#000" stroke-width="1.15"/>
<line x1="529.03" y1="880.57" x2="540.53" y2="880.57" stroke="#000" stroke-width="1.15"/>
<line x1="529.03" y1="899.18" x2="540.53" y2="899.18" stroke="#000" stroke-width="1.15"/>
<line x1="564.93" y1="863.2" x2="564.93" y2="875.61" stroke="#000" stroke-width="1.15"/>
<line x1="559.18" y1="863.2" x2="570.68" y2="863.2" stroke="#000" stroke-width="1.15"/>
<line x1="559.18" y1="875.61" x2="570.68" y2="875.61" stroke="#000" stroke-width="1.15"/>
<line x1="594.83" y1="869.4" x2="594.83" y2="884.29" stroke="#000" stroke-width="1.15"/>
<line x1="589.08" y1="869.4" x2="600.58" y2="869.4" stroke="#000" stroke-width="1.15"/>
<line x1="589.08" y1="884.29" x2="600.58" y2="884.29" stroke="#000" stroke-width="1.15"/>
<line x1="624.98" y1="868.91" x2="624.98" y2="885.04" stroke="#000" stroke-width="1.15"/>
<line x1="619.23" y1="868.91" x2="630.73" y2="868.91" stroke="#000" stroke-width="1.15"/>
<line x1="619.23" y1="885.04" x2="630.73" y2="885.04" stroke="#000" stroke-width="1.15"/>
<line x1="655" y1="878.09" x2="655" y2="894.22" stroke="#000" stroke-width="1.15"/>
<line x1="649.25" y1="878.09" x2="660.75" y2="878.09" stroke="#000" stroke-width="1.15"/>
<line x1="649.25" y1="894.22" x2="660.75" y2="894.22" stroke="#000" stroke-width="1.15"/>
<g fill="#000">
<ellipse cx="536.74" cy="872.34" rx="2.64" ry="2"/>
<ellipse cx="532.8" cy="876.28" rx="2.64" ry="2"/>
<ellipse cx="534.77" cy="881.27" rx="2.64" ry="2"/>
<ellipse cx="532.8" cy="886.13" rx="2.64" ry="2"/>
<ellipse cx="536.74" cy="889.42" rx="2.64" ry="2"/>
<ellipse cx="532.8" cy="891.78" rx="2.64" ry="2"/>
<ellipse cx="528.85" cy="895.33" rx="2.64" ry="2"/>
<ellipse cx="536.74" cy="895.99" rx="2.64" ry="2"/>
<ellipse cx="544.62" cy="895.99" rx="2.64" ry="2"/>
<ellipse cx="524.91" cy="898.61" rx="2.64" ry="2"/>
<ellipse cx="532.8" cy="898.61" rx="2.64" ry="2"/>
<ellipse cx="540.68" cy="899.93" rx="2.64" ry="2"/>
<rect x="562.35" y="856.93" width="5.28" height="4"/>
<rect x="558.67" y="861.4" width="5.28" height="4"/>
<rect x="565.63" y="861.4" width="5.28" height="4"/>
<rect x="558.67" y="866.39" width="5.28" height="4"/>
<rect x="552.49" y="869.02" width="5.28" height="4"/>
<rect x="565.63" y="870.34" width="5.28" height="4"/>
<rect x="572.2" y="869.02" width="5.28" height="4"/>
<rect x="558.67" y="871.65" width="5.28" height="4"/>
<rect x="552.49" y="873.62" width="5.28" height="4"/>
<rect x="572.2" y="873.62" width="5.28" height="4"/>
<rect x="565.63" y="875.59" width="5.28" height="4"/>
<rect x="552.49" y="878.22" width="5.28" height="4"/>
<path d="M589.03 865.64L591.93 869.52L586.13 869.52Z"/>
<path d="M596.52 866.95L599.42 870.84L593.61 870.84Z"/>
<path d="M592.84 868.26L595.74 872.15L589.94 872.15Z"/>
<path d="M584.69 872.6L587.6 876.49L581.79 876.49Z"/>
<path d="M589.03 871.81L591.93 875.7L586.13 875.7Z"/>
<path d="M605.06 872.6L607.96 876.49L602.15 876.49Z"/>
<path d="M592.84 875.49L595.74 879.38L589.94 879.38Z"/>
<path d="M597.83 875.49L600.74 879.38L594.93 879.38Z"/>
<path d="M601.12 875.49L604.02 879.38L598.21 879.38Z"/>
<path d="M592.84 880.09L595.74 883.97L589.94 883.97Z"/>
<path d="M597.57 881.8L600.47 885.68L594.67 885.68Z"/>
<path d="M594.94 893.23L597.85 897.11L592.04 897.11Z"/>
<path d="M629.93 865.24L632.83 861.35L627.02 861.35Z"/>
<path d="M625.07 867.6L627.97 863.72L622.16 863.72Z"/>
<path d="M615.21 874.44L618.12 870.55L612.31 870.55Z"/>
<path d="M620.07 874.44L622.98 870.55L617.17 870.55Z"/>
<path d="M625.07 876.41L627.97 872.52L622.16 872.52Z"/>
<path d="M629.93 876.41L632.83 872.52L627.02 872.52Z"/>
<path d="M634.92 877.33L637.82 873.44L632.02 873.44Z"/>
<path d="M615.21 879.03L618.12 875.15L612.31 875.15Z"/>
<path d="M620.07 883.63L622.98 879.75L617.17 879.75Z"/>
<path d="M625.07 886.92L627.97 883.03L622.16 883.03Z"/>
<path d="M629.93 886.52L632.83 882.64L627.02 882.64Z"/>
<path d="M625.07 895.46L627.97 891.57L622.16 891.57Z"/>
<path d="M658.44 868.72L661.34 871.02L658.44 873.32L655.53 871.02Z"/>
<path d="M651.61 871.61L654.51 873.91L651.61 876.21L648.7 873.91Z"/>
<path d="M651.61 878.97L654.51 881.27L651.61 883.57L648.7 881.27Z"/>
<path d="M645.04 881.6L647.94 883.9L645.04 886.2L642.13 883.9Z"/>
<path d="M651.61 883.83L654.51 886.13L651.61 888.43L648.7 886.13Z"/>
<path d="M665.4 885.15L668.31 887.45L665.4 889.75L662.5 887.45Z"/>
<path d="M658.44 886.46L661.34 888.76L658.44 891.06L655.53 888.76Z"/>
<path d="M651.61 889.09L654.51 891.39L651.61 893.69L648.7 891.39Z"/>
<path d="M645.04 889.48L647.94 891.78L645.04 894.08L642.13 891.78Z"/>
<path d="M658.44 891.06L661.34 893.36L658.44 895.66L655.53 893.36Z"/>
<path d="M665.4 889.74L668.31 892.04L665.4 894.34L662.5 892.04Z"/>
<path d="M645.04 893.03L647.94 895.33L645.04 897.63L642.13 895.33Z"/>
</g>
<line x1="535.27" y1="856.5" x2="564.55" y2="856.5" stroke="#000" stroke-width="1"/>
<text transform="translate(550.56,856.31) scale(1.32,1)" font-size="12.8" text-anchor="middle" font-weight="normal" letter-spacing="1.35" stroke="#000" stroke-width="0.35">****</text>
<line x1="535.27" y1="837.5" x2="594.83" y2="837.5" stroke="#000" stroke-width="1.25"/>
<text transform="translate(565.44,836.46) scale(1.32,1)" font-size="12.8" text-anchor="middle" font-weight="normal" letter-spacing="1.35" stroke="#000" stroke-width="0.35">**</text>
<line x1="535.27" y1="822.5" x2="624.85" y2="822.5" stroke="#000" stroke-width="1"/>
<text transform="translate(580.33,822.32) scale(1.32,1)" font-size="12.8" text-anchor="middle" font-weight="normal" letter-spacing="1.35" stroke="#000" stroke-width="0.35">**</text>
<line x1="565.3" y1="809.5" x2="655.12" y2="809.5" stroke="#000" stroke-width="1"/>
<text transform="translate(610.11,808.67) scale(1.32,1)" font-size="12.8" text-anchor="middle" font-weight="normal" letter-spacing="1.35" stroke="#000" stroke-width="0.35">***</text>
<line x1="594.83" y1="845.5" x2="655.12" y2="845.5" stroke="#000" stroke-width="1.25"/>
<text transform="translate(625.74,844.4) scale(1.32,1)" font-size="12.8" text-anchor="middle" font-weight="normal" letter-spacing="1.35" stroke="#000" stroke-width="0.35">*</text>
<line x1="625.35" y1="859.5" x2="655.12" y2="859.5" stroke="#000" stroke-width="1"/>
<text transform="translate(640.63,858.8) scale(1.32,1)" font-size="12.8" text-anchor="middle" font-weight="normal" letter-spacing="1.35" stroke="#000" stroke-width="0.35">*</text>
<text transform="translate(538.28,960.4) scale(1.32,1) rotate(-45)" font-size="9.6" text-anchor="end" font-weight="bold">control</text>
<text transform="translate(568.43,960.4) scale(1.32,1) rotate(-45)" font-size="9.6" text-anchor="end" font-weight="bold">CUS</text>
<text transform="translate(598.33,960.4) scale(1.32,1) rotate(-45)" font-size="9.6" text-anchor="end" font-weight="bold">CUS+FLU</text>
<text transform="translate(628.48,960.4) scale(1.32,1) rotate(-45)" font-size="9.6" text-anchor="end" font-weight="bold">CUS+EE</text>
<text transform="translate(658.5,960.4) scale(1.32,1) rotate(-45)" font-size="9.6" text-anchor="end" font-weight="bold">CUS+FLU+EE</text>
<text transform="translate(489.3,955) scale(1.18,1) rotate(-90)" font-size="9.8" text-anchor="start" font-weight="bold">Immobility Time in FST(s)</text>
</g>
<g>
<text transform="translate(2.6,1062.8)" font-size="23.2" text-anchor="start" font-weight="normal">M</text>
<g stroke="#000" stroke-width="1.8">
<rect x="67.19" y="1120.62" width="22.13" height="77.98" fill="#8e8e8e"/>
<rect x="96.72" y="1136.5" width="22.13" height="62.1" fill="#b2b2b2"/>
<rect x="126.49" y="1123.6" width="22.13" height="75" fill="#909090"/>
<rect x="156.02" y="1124.1" width="22.37" height="74.5" fill="#dcdcdc"/>
<rect x="185.8" y="1122.86" width="22.13" height="75.74" fill="#6e6e6e"/>
</g>
<line x1="61.1" y1="1096.3" x2="61.1" y2="1199.2" stroke="#000" stroke-width="1.2"/>
<line x1="60.5" y1="1198.6" x2="214.5" y2="1198.6" stroke="#000" stroke-width="1.2"/>
<line x1="55.7" y1="1198.6" x2="61.1" y2="1198.6" stroke="#000" stroke-width="1.2"/>
<text transform="translate(53.8,1201.33) scale(1.26,1)" font-size="7.8" text-anchor="end" font-weight="bold">0</text>
<line x1="55.7" y1="1178.26" x2="61.1" y2="1178.26" stroke="#000" stroke-width="1.2"/>
<text transform="translate(53.8,1180.99) scale(1.26,1)" font-size="7.8" text-anchor="end" font-weight="bold">20</text>
<line x1="55.7" y1="1157.92" x2="61.1" y2="1157.92" stroke="#000" stroke-width="1.2"/>
<text transform="translate(53.8,1160.65) scale(1.26,1)" font-size="7.8" text-anchor="end" font-weight="bold">40</text>
<line x1="55.7" y1="1137.58" x2="61.1" y2="1137.58" stroke="#000" stroke-width="1.2"/>
<text transform="translate(53.8,1140.31) scale(1.26,1)" font-size="7.8" text-anchor="end" font-weight="bold">60</text>
<line x1="55.7" y1="1117.24" x2="61.1" y2="1117.24" stroke="#000" stroke-width="1.2"/>
<text transform="translate(53.8,1119.97) scale(1.26,1)" font-size="7.8" text-anchor="end" font-weight="bold">80</text>
<line x1="55.7" y1="1096.9" x2="61.1" y2="1096.9" stroke="#000" stroke-width="1.2"/>
<text transform="translate(53.8,1099.63) scale(1.26,1)" font-size="7.8" text-anchor="end" font-weight="bold">100</text>
<line x1="78.25" y1="1198.6" x2="78.25" y2="1203.2" stroke="#000" stroke-width="1.2"/>
<line x1="107.78" y1="1198.6" x2="107.78" y2="1203.2" stroke="#000" stroke-width="1.2"/>
<line x1="137.56" y1="1198.6" x2="137.56" y2="1203.2" stroke="#000" stroke-width="1.2"/>
<line x1="167.21" y1="1198.6" x2="167.21" y2="1203.2" stroke="#000" stroke-width="1.2"/>
<line x1="196.86" y1="1198.6" x2="196.86" y2="1203.2" stroke="#000" stroke-width="1.2"/>
<line x1="78.25" y1="1115.01" x2="78.25" y2="1124.44" stroke="#000" stroke-width="1.15"/>
<line x1="72.5" y1="1115.01" x2="84" y2="1115.01" stroke="#000" stroke-width="1.15"/>
<line x1="72.5" y1="1124.44" x2="84" y2="1124.44" stroke="#000" stroke-width="1.15"/>
<line x1="107.78" y1="1131.14" x2="107.78" y2="1139.83" stroke="#000" stroke-width="1.15"/>
<line x1="102.03" y1="1131.14" x2="113.53" y2="1131.14" stroke="#000" stroke-width="1.15"/>
<line x1="102.03" y1="1139.83" x2="113.53" y2="1139.83" stroke="#000" stroke-width="1.15"/>
<line x1="137.56" y1="1117" x2="137.56" y2="1128.91" stroke="#000" stroke-width="1.15"/>
<line x1="131.81" y1="1117" x2="143.31" y2="1117" stroke="#000" stroke-width="1.15"/>
<line x1="131.81" y1="1128.91" x2="143.31" y2="1128.91" stroke="#000" stroke-width="1.15"/>
<line x1="167.21" y1="1118.24" x2="167.21" y2="1128.91" stroke="#000" stroke-width="1.15"/>
<line x1="161.46" y1="1118.24" x2="172.96" y2="1118.24" stroke="#000" stroke-width="1.15"/>
<line x1="161.46" y1="1128.91" x2="172.96" y2="1128.91" stroke="#000" stroke-width="1.15"/>
<line x1="196.86" y1="1117" x2="196.86" y2="1127.67" stroke="#000" stroke-width="1.15"/>
<line x1="191.11" y1="1117" x2="202.61" y2="1117" stroke="#000" stroke-width="1.15"/>
<line x1="191.11" y1="1127.67" x2="202.61" y2="1127.67" stroke="#000" stroke-width="1.15"/>
<g fill="#000">
<ellipse cx="68.52" cy="1113.54" rx="2.4" ry="2"/>
<ellipse cx="87.96" cy="1113.54" rx="2.4" ry="2"/>
<ellipse cx="75.09" cy="1115.51" rx="2.4" ry="2"/>
<ellipse cx="81.39" cy="1114.85" rx="2.4" ry="2"/>
<ellipse cx="68.52" cy="1118.14" rx="2.4" ry="2"/>
<ellipse cx="87.96" cy="1117.88" rx="2.4" ry="2"/>
<ellipse cx="68.52" cy="1121.82" rx="2.4" ry="2"/>
<ellipse cx="75.09" cy="1122.74" rx="2.4" ry="2"/>
<ellipse cx="87.96" cy="1123.39" rx="2.4" ry="2"/>
<ellipse cx="81.39" cy="1125.36" rx="2.4" ry="2"/>
<ellipse cx="68.52" cy="1127.34" rx="2.4" ry="2"/>
<ellipse cx="78.37" cy="1120.77" rx="2.4" ry="2"/>
<rect x="107.24" y="1126.65" width="4.8" height="4"/>
<rect x="100.02" y="1128.62" width="4.8" height="4"/>
<rect x="95.42" y="1130.59" width="4.8" height="4"/>
<rect x="115.13" y="1129.93" width="4.8" height="4"/>
<rect x="103.96" y="1132.56" width="4.8" height="4"/>
<rect x="109.87" y="1133.88" width="4.8" height="4"/>
<rect x="100.02" y="1135.19" width="4.8" height="4"/>
<rect x="111.18" y="1137.16" width="4.8" height="4"/>
<rect x="103.96" y="1137.82" width="4.8" height="4"/>
<rect x="107.24" y="1139.13" width="4.8" height="4"/>
<rect x="99.36" y="1140.45" width="4.8" height="4"/>
<rect x="95.42" y="1133.48" width="4.8" height="4"/>
<path d="M132.64 1112.36L135.28 1116.24L130 1116.24Z"/>
<path d="M128.04 1115.78L130.68 1119.66L125.4 1119.66Z"/>
<path d="M137.89 1116.7L140.53 1120.58L135.25 1120.58Z"/>
<path d="M147.74 1116.7L150.38 1120.58L145.1 1120.58Z"/>
<path d="M132.64 1119.32L135.28 1123.21L130 1123.21Z"/>
<path d="M142.49 1119.98L145.13 1123.87L139.85 1123.87Z"/>
<path d="M128.04 1120.64L130.68 1124.52L125.4 1124.52Z"/>
<path d="M137.89 1122.61L140.53 1126.49L135.25 1126.49Z"/>
<path d="M132.64 1124.58L135.28 1128.46L130 1128.46Z"/>
<path d="M142.49 1125.89L145.13 1129.78L139.85 1129.78Z"/>
<path d="M147.74 1122.61L150.38 1126.49L145.1 1126.49Z"/>
<path d="M137.89 1134.17L140.53 1138.06L135.25 1138.06Z"/>
<path d="M165.31 1116.03L167.95 1112.15L162.67 1112.15Z"/>
<path d="M169.64 1116.03L172.28 1112.15L167 1112.15Z"/>
<path d="M161.1 1123.52L163.74 1119.64L158.46 1119.64Z"/>
<path d="M168.99 1122.87L171.63 1118.98L166.35 1118.98Z"/>
<path d="M177.13 1123.92L179.77 1120.03L174.49 1120.03Z"/>
<path d="M157.42 1124.84L160.06 1120.95L154.78 1120.95Z"/>
<path d="M165.31 1126.81L167.95 1122.92L162.67 1122.92Z"/>
<path d="M173.58 1127.46L176.22 1123.58L170.94 1123.58Z"/>
<path d="M161.1 1128.78L163.74 1124.89L158.46 1124.89Z"/>
<path d="M168.99 1129.44L171.63 1125.55L166.35 1125.55Z"/>
<path d="M165.31 1134.03L167.95 1130.15L162.67 1130.15Z"/>
<path d="M167.28 1131.41L169.92 1127.52L164.64 1127.52Z"/>
<path d="M201.83 1112.16L204.47 1114.46L201.83 1116.76L199.19 1114.46Z"/>
<path d="M187.38 1113.87L190.02 1116.17L187.38 1118.47L184.74 1116.17Z"/>
<path d="M206.82 1114.79L209.46 1117.09L206.82 1119.39L204.18 1117.09Z"/>
<path d="M201.83 1116.5L204.47 1118.8L201.83 1121.1L199.19 1118.8Z"/>
<path d="M191.98 1117.42L194.62 1119.72L191.98 1122.02L189.34 1119.72Z"/>
<path d="M187.38 1119.12L190.02 1121.42L187.38 1123.72L184.74 1121.42Z"/>
<path d="M206.82 1119.52L209.46 1121.82L206.82 1124.12L204.18 1121.82Z"/>
<path d="M191.98 1122.41L194.62 1124.71L191.98 1127.01L189.34 1124.71Z"/>
<path d="M196.84 1123.06L199.48 1125.36L196.84 1127.66L194.2 1125.36Z"/>
<path d="M201.83 1122.41L204.47 1124.71L201.83 1127.01L199.19 1124.71Z"/>
<path d="M191.98 1127.01L194.62 1129.31L191.98 1131.61L189.34 1129.31Z"/>
<path d="M201.83 1127.01L204.47 1129.31L201.83 1131.61L199.19 1129.31Z"/>
</g>
<line x1="78.5" y1="1108.5" x2="107.53" y2="1108.5" stroke="#000" stroke-width="1.25"/>
<text transform="translate(93.49,1107.38) scale(1.26,1)" font-size="12.8" text-anchor="middle" font-weight="normal" letter-spacing="1.35" stroke="#000" stroke-width="0.35">****</text>
<line x1="108.28" y1="1093.5" x2="137.56" y2="1093.5" stroke="#000" stroke-width="1.25"/>
<text transform="translate(122.77,1092.74) scale(1.26,1)" font-size="12.8" text-anchor="middle" font-weight="normal" letter-spacing="1.35" stroke="#000" stroke-width="0.35">****</text>
<line x1="108.28" y1="1078.5" x2="167.08" y2="1078.5" stroke="#000" stroke-width="1.25"/>
<text transform="translate(137.66,1077.6) scale(1.26,1)" font-size="12.8" text-anchor="middle" font-weight="normal" letter-spacing="1.35" stroke="#000" stroke-width="0.35">****</text>
<line x1="108.28" y1="1063.5" x2="196.86" y2="1063.5" stroke="#000" stroke-width="1.25"/>
<text transform="translate(152.55,1062.96) scale(1.26,1)" font-size="12.8" text-anchor="middle" font-weight="normal" letter-spacing="1.35" stroke="#000" stroke-width="0.35">****</text>
<text transform="translate(81.75,1212.6) scale(1.3,1) rotate(-45)" font-size="9.6" text-anchor="end" font-weight="bold">control</text>
<text transform="translate(111.28,1212.6) scale(1.3,1) rotate(-45)" font-size="9.6" text-anchor="end" font-weight="bold">CUS</text>
<text transform="translate(141.06,1212.6) scale(1.3,1) rotate(-45)" font-size="9.6" text-anchor="end" font-weight="bold">CUS+FLU</text>
<text transform="translate(170.71,1212.6) scale(1.3,1) rotate(-45)" font-size="9.6" text-anchor="end" font-weight="bold">CUS+EE</text>
<text transform="translate(200.36,1212.6) scale(1.3,1) rotate(-45)" font-size="9.6" text-anchor="end" font-weight="bold">CUS+FLU+EE</text>
<text transform="translate(30.4,1214.3) scale(1.18,1) rotate(-90)" font-size="10.1" text-anchor="start" font-weight="bold">Sucrose Preference Test<tspan font-weight="normal" font-size="10.3" stroke="none">(%)</tspan></text>
</g>
<g>
<text transform="translate(236.7,1068.3)" font-size="23.2" text-anchor="start" font-weight="normal">N</text>
<g stroke="#000" stroke-width="1.8">
<rect x="298.71" y="1129.06" width="22.13" height="68.04" fill="#8e8e8e"/>
<rect x="327.75" y="1151.39" width="22.37" height="45.71" fill="#b2b2b2"/>
<rect x="357.03" y="1133.53" width="22.37" height="63.57" fill="#909090"/>
<rect x="386.56" y="1134.77" width="22.13" height="62.33" fill="#dcdcdc"/>
<rect x="415.84" y="1131.05" width="22.13" height="66.05" fill="#6e6e6e"/>
</g>
<line x1="292.9" y1="1092.7" x2="292.9" y2="1197.8" stroke="#000" stroke-width="1.4"/>
<line x1="292.2" y1="1197.1" x2="446.5" y2="1197.1" stroke="#000" stroke-width="1.4"/>
<line x1="287.2" y1="1197.1" x2="292.9" y2="1197.1" stroke="#000" stroke-width="1.4"/>
<text transform="translate(285.3,1200.58) scale(1.24,1)" font-size="9.95" text-anchor="end" font-weight="bold">0</text>
<line x1="287.2" y1="1162.53" x2="292.9" y2="1162.53" stroke="#000" stroke-width="1.4"/>
<text transform="translate(285.3,1166.02) scale(1.24,1)" font-size="9.95" text-anchor="end" font-weight="bold">50</text>
<line x1="287.2" y1="1127.97" x2="292.9" y2="1127.97" stroke="#000" stroke-width="1.4"/>
<text transform="translate(285.3,1131.45) scale(1.24,1)" font-size="9.95" text-anchor="end" font-weight="bold">100</text>
<line x1="287.2" y1="1093.4" x2="292.9" y2="1093.4" stroke="#000" stroke-width="1.4"/>
<text transform="translate(285.3,1096.88) scale(1.24,1)" font-size="9.95" text-anchor="end" font-weight="bold">150</text>
<line x1="309.78" y1="1197.1" x2="309.78" y2="1201.7" stroke="#000" stroke-width="1.4"/>
<line x1="338.93" y1="1197.1" x2="338.93" y2="1201.7" stroke="#000" stroke-width="1.4"/>
<line x1="368.21" y1="1197.1" x2="368.21" y2="1201.7" stroke="#000" stroke-width="1.4"/>
<line x1="397.62" y1="1197.1" x2="397.62" y2="1201.7" stroke="#000" stroke-width="1.4"/>
<line x1="426.9" y1="1197.1" x2="426.9" y2="1201.7" stroke="#000" stroke-width="1.4"/>
<line x1="309.78" y1="1117.49" x2="309.78" y2="1139.83" stroke="#000" stroke-width="1.15"/>
<line x1="304.03" y1="1117.49" x2="315.53" y2="1117.49" stroke="#000" stroke-width="1.15"/>
<line x1="304.03" y1="1139.83" x2="315.53" y2="1139.83" stroke="#000" stroke-width="1.15"/>
<line x1="338.93" y1="1139.83" x2="338.93" y2="1161.17" stroke="#000" stroke-width="1.15"/>
<line x1="333.18" y1="1139.83" x2="344.68" y2="1139.83" stroke="#000" stroke-width="1.15"/>
<line x1="333.18" y1="1161.17" x2="344.68" y2="1161.17" stroke="#000" stroke-width="1.15"/>
<line x1="368.21" y1="1121.22" x2="368.21" y2="1143.55" stroke="#000" stroke-width="1.15"/>
<line x1="362.46" y1="1121.22" x2="373.96" y2="1121.22" stroke="#000" stroke-width="1.15"/>
<line x1="362.46" y1="1143.55" x2="373.96" y2="1143.55" stroke="#000" stroke-width="1.15"/>
<line x1="397.62" y1="1124.44" x2="397.62" y2="1143.55" stroke="#000" stroke-width="1.15"/>
<line x1="391.87" y1="1124.44" x2="403.37" y2="1124.44" stroke="#000" stroke-width="1.15"/>
<line x1="391.87" y1="1143.55" x2="403.37" y2="1143.55" stroke="#000" stroke-width="1.15"/>
<line x1="426.9" y1="1118.24" x2="426.9" y2="1142.56" stroke="#000" stroke-width="1.15"/>
<line x1="421.15" y1="1118.24" x2="432.65" y2="1118.24" stroke="#000" stroke-width="1.15"/>
<line x1="421.15" y1="1142.56" x2="432.65" y2="1142.56" stroke="#000" stroke-width="1.15"/>
<g fill="#000">
<ellipse cx="309.77" cy="1108.15" rx="2.48" ry="2"/>
<ellipse cx="300.31" cy="1117.34" rx="2.48" ry="2"/>
<ellipse cx="313.45" cy="1118.66" rx="2.48" ry="2"/>
<ellipse cx="300.31" cy="1122.07" rx="2.48" ry="2"/>
<ellipse cx="306.88" cy="1122.07" rx="2.48" ry="2"/>
<ellipse cx="300.31" cy="1131.53" rx="2.48" ry="2"/>
<ellipse cx="306.88" cy="1132.19" rx="2.48" ry="2"/>
<ellipse cx="313.45" cy="1133.9" rx="2.48" ry="2"/>
<ellipse cx="319.62" cy="1134.42" rx="2.48" ry="2"/>
<ellipse cx="306.88" cy="1137.45" rx="2.48" ry="2"/>
<ellipse cx="313.45" cy="1138.76" rx="2.48" ry="2"/>
<ellipse cx="309.77" cy="1143.36" rx="2.48" ry="2"/>
<rect x="336.59" y="1129.53" width="4.96" height="4"/>
<rect x="336.59" y="1134.53" width="4.96" height="4"/>
<rect x="346.44" y="1140.7" width="4.96" height="4"/>
<rect x="326.73" y="1143.99" width="4.96" height="4"/>
<rect x="336.59" y="1143.33" width="4.96" height="4"/>
<rect x="336.59" y="1147.93" width="4.96" height="4"/>
<rect x="326.73" y="1151.61" width="4.96" height="4"/>
<rect x="346.44" y="1149.24" width="4.96" height="4"/>
<rect x="346.44" y="1155.15" width="4.96" height="4"/>
<rect x="336.59" y="1157.78" width="4.96" height="4"/>
<rect x="341.45" y="1162.64" width="4.96" height="4"/>
<rect x="331.59" y="1165.66" width="4.96" height="4"/>
<path d="M368.5 1107.36L371.22 1111.24L365.77 1111.24Z"/>
<path d="M368.5 1113.93L371.22 1117.81L365.77 1117.81Z"/>
<path d="M368.5 1122.21L371.22 1126.09L365.77 1126.09Z"/>
<path d="M368.5 1127.07L371.22 1130.95L365.77 1130.95Z"/>
<path d="M361.01 1133.64L363.74 1137.52L358.28 1137.52Z"/>
<path d="M364.95 1134.43L367.68 1138.31L362.22 1138.31Z"/>
<path d="M372.18 1134.43L374.9 1138.31L369.45 1138.31Z"/>
<path d="M376.12 1133.64L378.84 1137.52L373.39 1137.52Z"/>
<path d="M366.66 1137.32L369.38 1141.2L363.93 1141.2Z"/>
<path d="M370.47 1139.68L373.2 1143.57L367.74 1143.57Z"/>
<path d="M368.5 1147.17L371.22 1151.06L365.77 1151.06Z"/>
<path d="M368.5 1132.32L371.22 1136.21L365.77 1136.21Z"/>
<path d="M397.75 1114.19L400.48 1110.3L395.02 1110.3Z"/>
<path d="M397.75 1125.49L400.48 1121.6L395.02 1121.6Z"/>
<path d="M388.16 1129.95L390.89 1126.07L385.43 1126.07Z"/>
<path d="M394.47 1133.63L397.2 1129.75L391.74 1129.75Z"/>
<path d="M407.21 1133.63L409.94 1129.75L404.48 1129.75Z"/>
<path d="M400.64 1137.31L403.37 1133.43L397.91 1133.43Z"/>
<path d="M388.16 1140.2L390.89 1136.32L385.43 1136.32Z"/>
<path d="M394.47 1141.52L397.2 1137.63L391.74 1137.63Z"/>
<path d="M388.16 1144.8L390.89 1140.92L385.43 1140.92Z"/>
<path d="M400.64 1144.8L403.37 1140.92L397.91 1140.92Z"/>
<path d="M407.21 1144.14L409.94 1140.26L404.48 1140.26Z"/>
<path d="M397.75 1135.6L400.48 1131.72L395.02 1131.72Z"/>
<path d="M429.94 1103.22L432.67 1105.52L429.94 1107.82L427.21 1105.52Z"/>
<path d="M423.37 1106.63L426.1 1108.93L423.37 1111.23L420.64 1108.93Z"/>
<path d="M429.94 1124.63L432.67 1126.93L429.94 1129.23L427.21 1126.93Z"/>
<path d="M416.8 1128.18L419.53 1130.48L416.8 1132.78L414.07 1130.48Z"/>
<path d="M423.37 1127.26L426.1 1129.56L423.37 1131.86L420.64 1129.56Z"/>
<path d="M436.51 1126.61L439.24 1128.91L436.51 1131.21L433.78 1128.91Z"/>
<path d="M423.37 1132.12L426.1 1134.42L423.37 1136.72L420.64 1134.42Z"/>
<path d="M429.94 1130.55L432.67 1132.85L429.94 1135.15L427.21 1132.85Z"/>
<path d="M423.37 1136.85L426.1 1139.15L423.37 1141.45L420.64 1139.15Z"/>
<path d="M429.94 1135.8L432.67 1138.1L429.94 1140.4L427.21 1138.1Z"/>
<path d="M423.37 1142.37L426.1 1144.67L423.37 1146.97L420.64 1144.67Z"/>
<path d="M429.94 1140.4L432.67 1142.7L429.94 1145L427.21 1142.7Z"/>
</g>
<line x1="309.78" y1="1106.5" x2="338.81" y2="1106.5" stroke="#000" stroke-width="1.25"/>
<text transform="translate(324.76,1105.4) scale(1.24,1)" font-size="12.8" text-anchor="middle" font-weight="normal" letter-spacing="1.35" stroke="#000" stroke-width="0.35">****</text>
<line x1="339.06" y1="1094.5" x2="397.12" y2="1094.5" stroke="#000" stroke-width="1"/>
<text transform="translate(368.68,1093.24) scale(1.24,1)" font-size="12.8" text-anchor="middle" font-weight="normal" letter-spacing="1.35" stroke="#000" stroke-width="0.35">**</text>
<line x1="339.06" y1="1079.5" x2="368.09" y2="1079.5" stroke="#000" stroke-width="1"/>
<text transform="translate(354.29,1078.35) scale(1.24,1)" font-size="12.8" text-anchor="middle" font-weight="normal" letter-spacing="1.35" stroke="#000" stroke-width="0.35">**</text>
<line x1="339.06" y1="1064.5" x2="426.4" y2="1064.5" stroke="#000" stroke-width="1"/>
<text transform="translate(383.07,1063.46) scale(1.24,1)" font-size="12.8" text-anchor="middle" font-weight="normal" letter-spacing="1.35" stroke="#000" stroke-width="0.35">***</text>
<text transform="translate(313.28,1211.1) scale(1.24,1) rotate(-45)" font-size="9.98" text-anchor="end" font-weight="bold">control</text>
<text transform="translate(342.43,1211.1) scale(1.24,1) rotate(-45)" font-size="9.98" text-anchor="end" font-weight="bold">CUS</text>
<text transform="translate(371.71,1211.1) scale(1.24,1) rotate(-45)" font-size="9.98" text-anchor="end" font-weight="bold">CUS+FLU</text>
<text transform="translate(401.12,1211.1) scale(1.24,1) rotate(-45)" font-size="9.98" text-anchor="end" font-weight="bold">CUS+EE</text>
<text transform="translate(430.4,1211.1) scale(1.24,1) rotate(-45)" font-size="9.98" text-anchor="end" font-weight="bold">CUS+FLU+EE</text>
<text transform="translate(259.6,1217.1) scale(1.14,1) rotate(-90)" font-size="10.07" text-anchor="start" font-weight="bold">movement distance in OFT (m)</text>
</g>
<g>
<text transform="translate(466,1069.2)" font-size="23.2" text-anchor="start" font-weight="normal">O</text>
<g stroke="#000" stroke-width="1.8">
<rect x="529.17" y="1148.91" width="21.63" height="45.59" fill="#8e8e8e"/>
<rect x="558.21" y="1128.56" width="21.63" height="65.94" fill="#b2b2b2"/>
<rect x="587.24" y="1143.45" width="21.63" height="51.05" fill="#909090"/>
<rect x="616.27" y="1144.69" width="21.63" height="49.81" fill="#dcdcdc"/>
<rect x="645.05" y="1147.17" width="21.88" height="47.33" fill="#6e6e6e"/>
</g>
<line x1="523.6" y1="1084.8" x2="523.6" y2="1195.2" stroke="#000" stroke-width="1.4"/>
<line x1="522.9" y1="1194.5" x2="673" y2="1194.5" stroke="#000" stroke-width="1.4"/>
<line x1="517.9" y1="1194.5" x2="523.6" y2="1194.5" stroke="#000" stroke-width="1.4"/>
<text transform="translate(516,1197.98) scale(1.25,1)" font-size="9.95" text-anchor="end" font-weight="bold">0</text>
<line x1="517.9" y1="1172.7" x2="523.6" y2="1172.7" stroke="#000" stroke-width="1.4"/>
<text transform="translate(516,1176.18) scale(1.25,1)" font-size="9.95" text-anchor="end" font-weight="bold">20</text>
<line x1="517.9" y1="1150.9" x2="523.6" y2="1150.9" stroke="#000" stroke-width="1.4"/>
<text transform="translate(516,1154.38) scale(1.25,1)" font-size="9.95" text-anchor="end" font-weight="bold">40</text>
<line x1="517.9" y1="1129.1" x2="523.6" y2="1129.1" stroke="#000" stroke-width="1.4"/>
<text transform="translate(516,1132.58) scale(1.25,1)" font-size="9.95" text-anchor="end" font-weight="bold">60</text>
<line x1="517.9" y1="1107.3" x2="523.6" y2="1107.3" stroke="#000" stroke-width="1.4"/>
<text transform="translate(516,1110.78) scale(1.25,1)" font-size="9.95" text-anchor="end" font-weight="bold">80</text>
<line x1="517.9" y1="1085.5" x2="523.6" y2="1085.5" stroke="#000" stroke-width="1.4"/>
<text transform="translate(516,1088.98) scale(1.25,1)" font-size="9.95" text-anchor="end" font-weight="bold">100</text>
<line x1="539.99" y1="1194.5" x2="539.99" y2="1199.1" stroke="#000" stroke-width="1.4"/>
<line x1="569.02" y1="1194.5" x2="569.02" y2="1199.1" stroke="#000" stroke-width="1.4"/>
<line x1="598.05" y1="1194.5" x2="598.05" y2="1199.1" stroke="#000" stroke-width="1.4"/>
<line x1="627.08" y1="1194.5" x2="627.08" y2="1199.1" stroke="#000" stroke-width="1.4"/>
<line x1="655.99" y1="1194.5" x2="655.99" y2="1199.1" stroke="#000" stroke-width="1.4"/>
<line x1="539.99" y1="1140.57" x2="539.99" y2="1155.46" stroke="#000" stroke-width="1.15"/>
<line x1="534.24" y1="1140.57" x2="545.74" y2="1140.57" stroke="#000" stroke-width="1.15"/>
<line x1="534.24" y1="1155.46" x2="545.74" y2="1155.46" stroke="#000" stroke-width="1.15"/>
<line x1="569.02" y1="1114.52" x2="569.02" y2="1141.81" stroke="#000" stroke-width="1.15"/>
<line x1="563.27" y1="1114.52" x2="574.77" y2="1114.52" stroke="#000" stroke-width="1.15"/>
<line x1="563.27" y1="1141.81" x2="574.77" y2="1141.81" stroke="#000" stroke-width="1.15"/>
<line x1="598.05" y1="1133.13" x2="598.05" y2="1151.74" stroke="#000" stroke-width="1.15"/>
<line x1="592.3" y1="1133.13" x2="603.8" y2="1133.13" stroke="#000" stroke-width="1.15"/>
<line x1="592.3" y1="1151.74" x2="603.8" y2="1151.74" stroke="#000" stroke-width="1.15"/>
<line x1="627.08" y1="1135.61" x2="627.08" y2="1151.74" stroke="#000" stroke-width="1.15"/>
<line x1="621.33" y1="1135.61" x2="632.83" y2="1135.61" stroke="#000" stroke-width="1.15"/>
<line x1="621.33" y1="1151.74" x2="632.83" y2="1151.74" stroke="#000" stroke-width="1.15"/>
<line x1="655.99" y1="1136.85" x2="655.99" y2="1154.22" stroke="#000" stroke-width="1.15"/>
<line x1="650.24" y1="1136.85" x2="661.74" y2="1136.85" stroke="#000" stroke-width="1.15"/>
<line x1="650.24" y1="1154.22" x2="661.74" y2="1154.22" stroke="#000" stroke-width="1.15"/>
<g fill="#000">
<ellipse cx="534.85" cy="1135.33" rx="2.5" ry="2"/>
<ellipse cx="544.71" cy="1138.35" rx="2.5" ry="2"/>
<ellipse cx="539.45" cy="1139.66" rx="2.5" ry="2"/>
<ellipse cx="530.26" cy="1144.92" rx="2.5" ry="2"/>
<ellipse cx="535.25" cy="1146.5" rx="2.5" ry="2"/>
<ellipse cx="544.71" cy="1146.76" rx="2.5" ry="2"/>
<ellipse cx="549.7" cy="1147.81" rx="2.5" ry="2"/>
<ellipse cx="535.25" cy="1151.09" rx="2.5" ry="2"/>
<ellipse cx="539.72" cy="1150.7" rx="2.5" ry="2"/>
<ellipse cx="544.71" cy="1151.09" rx="2.5" ry="2"/>
<ellipse cx="542.08" cy="1158.98" rx="2.5" ry="2"/>
<ellipse cx="537.09" cy="1161.61" rx="2.5" ry="2"/>
<rect x="566.51" y="1096.54" width="5" height="4"/>
<rect x="566.51" y="1104.03" width="5" height="4"/>
<rect x="566.51" y="1114.93" width="5" height="4"/>
<rect x="566.51" y="1126.76" width="5" height="4"/>
<rect x="557.32" y="1130.7" width="5" height="4"/>
<rect x="571.77" y="1132.01" width="5" height="4"/>
<rect x="575.71" y="1133.33" width="5" height="4"/>
<rect x="561.92" y="1135.96" width="5" height="4"/>
<rect x="566.51" y="1136.88" width="5" height="4"/>
<rect x="571.77" y="1136.88" width="5" height="4"/>
<rect x="561.92" y="1139.9" width="5" height="4"/>
<rect x="564.54" y="1126.1" width="5" height="4"/>
<path d="M598.18 1124.69L600.93 1128.57L595.43 1128.57Z"/>
<path d="M588.72 1132.57L591.47 1136.46L585.97 1136.46Z"/>
<path d="M594.64 1131.26L597.39 1135.14L591.89 1135.14Z"/>
<path d="M601.86 1134.54L604.61 1138.43L599.11 1138.43Z"/>
<path d="M607.77 1134.15L610.52 1138.03L605.02 1138.03Z"/>
<path d="M601.2 1139.8L603.95 1143.68L598.45 1143.68Z"/>
<path d="M595.29 1143.08L598.04 1146.97L592.54 1146.97Z"/>
<path d="M601.2 1144.4L603.95 1148.28L598.45 1148.28Z"/>
<path d="M607.77 1143.08L610.52 1146.97L605.02 1146.97Z"/>
<path d="M594.64 1149.65L597.39 1153.54L591.89 1153.54Z"/>
<path d="M601.2 1151.23L603.95 1155.11L598.45 1155.11Z"/>
<path d="M598.18 1156.22L600.93 1160.11L595.43 1160.11Z"/>
<path d="M627.04 1130.46L629.79 1126.58L624.29 1126.58Z"/>
<path d="M627.04 1135.46L629.79 1131.57L624.29 1131.57Z"/>
<path d="M622.18 1138.74L624.93 1134.86L619.43 1134.86Z"/>
<path d="M617.19 1142.29L619.94 1138.4L614.44 1138.4Z"/>
<path d="M636.9 1142.29L639.65 1138.4L634.15 1138.4Z"/>
<path d="M622.18 1144.65L624.93 1140.77L619.43 1140.77Z"/>
<path d="M631.64 1144.65L634.39 1140.77L628.89 1140.77Z"/>
<path d="M627.04 1145.97L629.79 1142.08L624.29 1142.08Z"/>
<path d="M622.18 1149.91L624.93 1146.03L619.43 1146.03Z"/>
<path d="M631.64 1150.96L634.39 1147.08L628.89 1147.08Z"/>
<path d="M627.04 1154.9L629.79 1151.02L624.29 1151.02Z"/>
<path d="M627.04 1161.08L629.79 1157.19L624.29 1157.19Z"/>
<path d="M659.63 1129.74L662.38 1132.04L659.63 1134.34L656.88 1132.04Z"/>
<path d="M652.66 1130.4L655.41 1132.7L652.66 1135L649.91 1132.7Z"/>
<path d="M652.66 1136.05L655.41 1138.35L652.66 1140.65L649.91 1138.35Z"/>
<path d="M659.63 1139.6L662.38 1141.9L659.63 1144.2L656.88 1141.9Z"/>
<path d="M646.49 1142.23L649.24 1144.53L646.49 1146.83L643.74 1144.53Z"/>
<path d="M652.66 1142.23L655.41 1144.53L652.66 1146.83L649.91 1144.53Z"/>
<path d="M659.63 1145.51L662.38 1147.81L659.63 1150.11L656.88 1147.81Z"/>
<path d="M652.66 1148.14L655.41 1150.44L652.66 1152.74L649.91 1150.44Z"/>
<path d="M646.49 1150.5L649.24 1152.8L646.49 1155.1L643.74 1152.8Z"/>
<path d="M659.63 1151.82L662.38 1154.12L659.63 1156.42L656.88 1154.12Z"/>
<path d="M665.41 1149.19L668.16 1151.49L665.41 1153.79L662.66 1151.49Z"/>
<path d="M652.66 1155.36L655.41 1157.66L652.66 1159.96L649.91 1157.66Z"/>
</g>
<line x1="539.74" y1="1096.5" x2="569.02" y2="1096.5" stroke="#000" stroke-width="1.25"/>
<text transform="translate(554.48,1094.97) scale(1.25,1)" font-size="12.8" text-anchor="middle" font-weight="normal" letter-spacing="1.35" stroke="#000" stroke-width="0.35">****</text>
<line x1="569.02" y1="1080.5" x2="598.05" y2="1080.5" stroke="#000" stroke-width="1.25"/>
<text transform="translate(583.76,1079.59) scale(1.25,1)" font-size="12.8" text-anchor="middle" font-weight="normal" letter-spacing="1.35" stroke="#000" stroke-width="0.35">**</text>
<line x1="570.76" y1="1104.5" x2="627.08" y2="1104.5" stroke="#000" stroke-width="1"/>
<text transform="translate(598.4,1103.16) scale(1.25,1)" font-size="12.8" text-anchor="middle" font-weight="normal" letter-spacing="1.35" stroke="#000" stroke-width="0.35">**</text>
<line x1="569.02" y1="1064.5" x2="655.87" y2="1064.5" stroke="#000" stroke-width="1.25"/>
<text transform="translate(612.54,1063.96) scale(1.25,1)" font-size="12.8" text-anchor="middle" font-weight="normal" letter-spacing="1.35" stroke="#000" stroke-width="0.35">***</text>
<text transform="translate(543.49,1208.5) scale(1.17,1) rotate(-45)" font-size="9.93" text-anchor="end" font-weight="bold">control</text>
<text transform="translate(572.52,1208.5) scale(1.17,1) rotate(-45)" font-size="9.93" text-anchor="end" font-weight="bold">CUS</text>
<text transform="translate(601.55,1208.5) scale(1.17,1) rotate(-45)" font-size="9.93" text-anchor="end" font-weight="bold">CUS+FLU</text>
<text transform="translate(630.58,1208.5) scale(1.17,1) rotate(-45)" font-size="9.93" text-anchor="end" font-weight="bold">CUS+EE</text>
<text transform="translate(659.49,1208.5) scale(1.17,1) rotate(-45)" font-size="9.93" text-anchor="end" font-weight="bold">CUS+FLU+EE</text>
<text transform="translate(488.7,1203.4) scale(1.1,1) rotate(-90)" font-size="10.7" text-anchor="start" font-weight="bold">Immobility Time in FST(s)</text>
</g>
</g>
</svg></body></html>
